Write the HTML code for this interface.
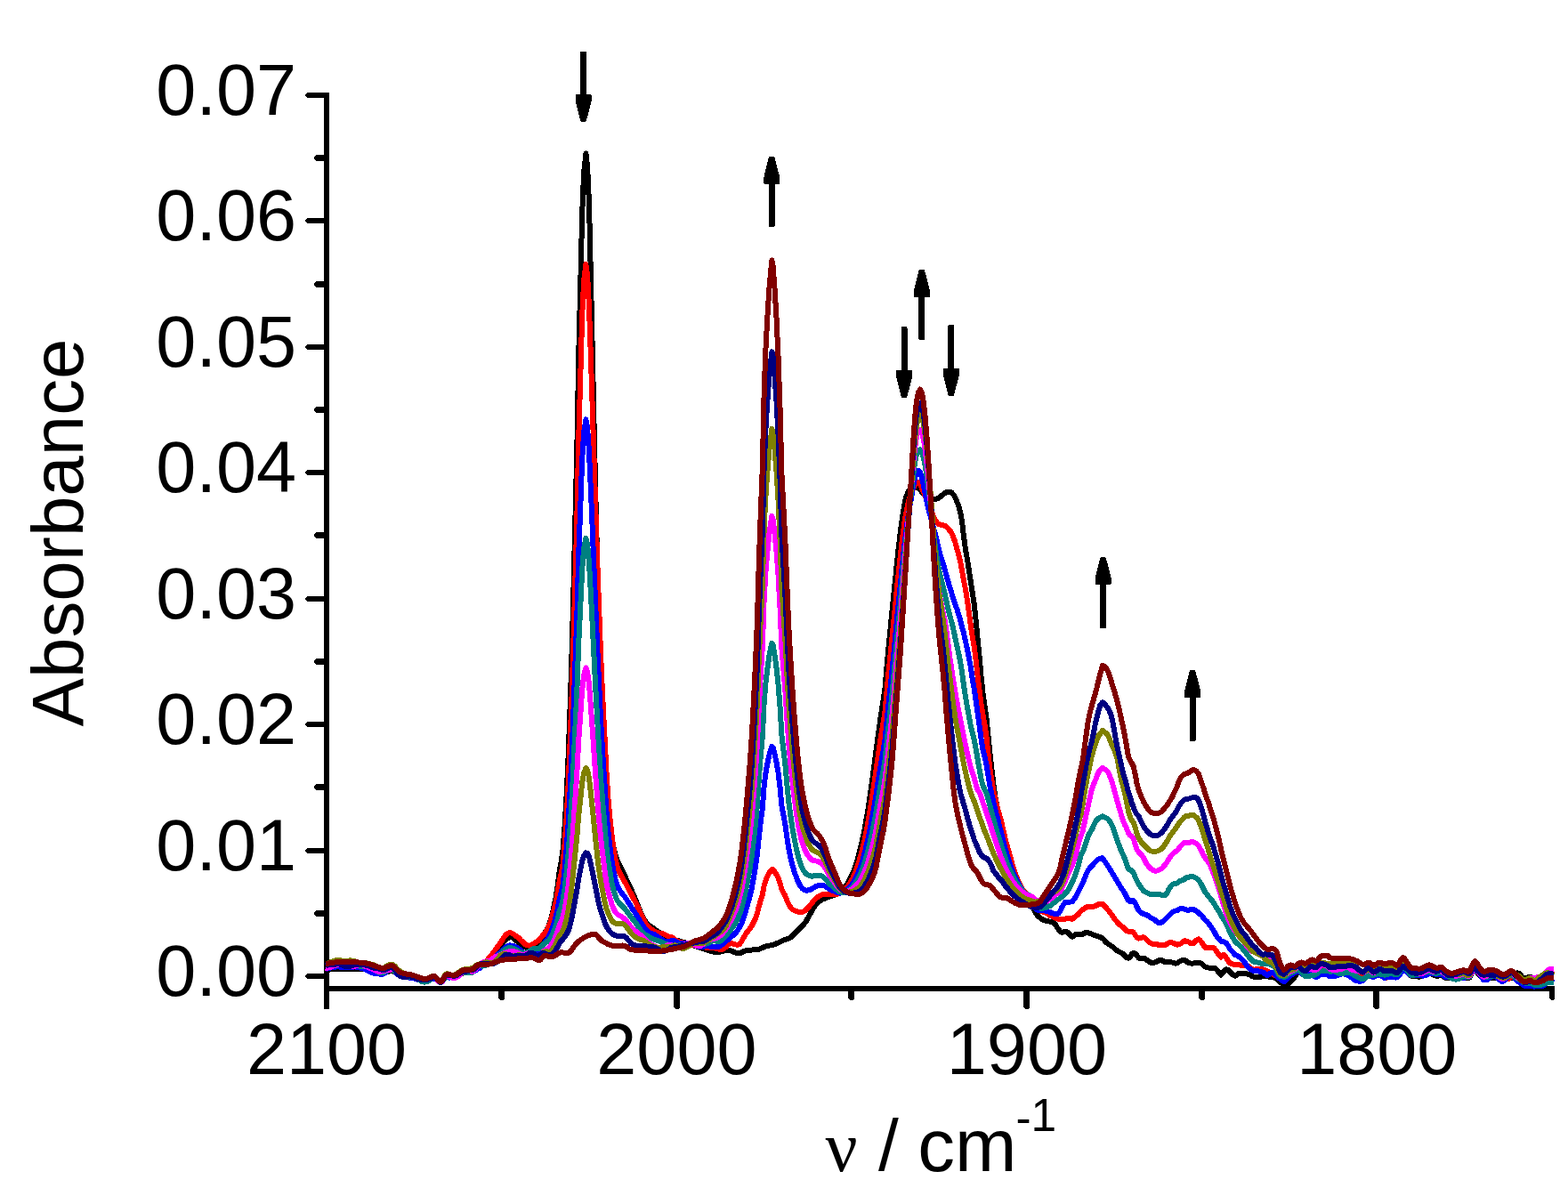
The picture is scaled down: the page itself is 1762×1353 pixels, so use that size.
<!DOCTYPE html>
<html lang="en"><head><meta charset="utf-8"><title>IR spectra</title>
<style>html,body{margin:0;padding:0;background:#fff;overflow:hidden}svg{display:block}</style>
</head><body>
<svg width="1762" height="1353" viewBox="0 0 1762 1353" role="img" aria-label="Infrared absorbance spectra, 2100 to 1750 wavenumbers">
<rect width="1762" height="1353" fill="#fff"/>
<g fill="#000" shape-rendering="crispEdges">
<rect x="364" y="104" width="6" height="1030"/>
<rect x="364" y="1108" width="1383" height="6"/>
<path d="M365,1094 L345,1094 L343,1096 L343,1098 L345,1100 L365,1100 Z"/>
<path d="M365,1023 L355,1023 L353,1025 L353,1028 L355,1030 L365,1030 Z"/>
<path d="M365,953 L345,953 L343,955 L343,957 L345,959 L365,959 Z"/>
<path d="M365,881 L355,881 L353,883 L353,886 L355,888 L365,888 Z"/>
<path d="M365,811 L345,811 L343,813 L343,815 L345,817 L365,817 Z"/>
<path d="M365,740 L355,740 L353,742 L353,745 L355,747 L365,747 Z"/>
<path d="M365,670 L345,670 L343,672 L343,674 L345,676 L365,676 Z"/>
<path d="M365,598 L355,598 L353,600 L353,603 L355,605 L365,605 Z"/>
<path d="M365,528 L345,528 L343,530 L343,532 L345,534 L365,534 Z"/>
<path d="M365,457 L355,457 L353,459 L353,462 L355,464 L365,464 Z"/>
<path d="M365,387 L345,387 L343,389 L343,391 L345,393 L365,393 Z"/>
<path d="M365,316 L355,316 L353,318 L353,321 L355,323 L365,323 Z"/>
<path d="M365,245 L345,245 L343,247 L343,249 L345,251 L365,251 Z"/>
<path d="M365,174 L355,174 L353,176 L353,179 L355,181 L365,181 Z"/>
<path d="M365,104 L345,104 L343,106 L343,108 L345,110 L365,110 Z"/>
<path d="M364,1110 L364,1132 L366,1134 L368,1134 L370,1132 L370,1110 Z"/>
<path d="M560,1110 L560,1122 L562,1124 L565,1124 L567,1122 L567,1110 Z"/>
<path d="M757,1110 L757,1132 L759,1134 L762,1134 L764,1132 L764,1110 Z"/>
<path d="M953,1110 L953,1122 L955,1124 L958,1124 L960,1122 L960,1110 Z"/>
<path d="M1150,1110 L1150,1132 L1152,1134 L1155,1134 L1157,1132 L1157,1110 Z"/>
<path d="M1347,1110 L1347,1122 L1349,1124 L1352,1124 L1354,1122 L1354,1110 Z"/>
<path d="M1543,1110 L1543,1132 L1545,1134 L1548,1134 L1550,1132 L1550,1110 Z"/>
<path d="M1741,1110 L1741,1122 L1743,1124 L1745,1124 L1747,1122 L1747,1110 Z"/>
</g>
<g font-family="'Liberation Sans', Arial, sans-serif" font-size="81px" fill="#000">
<text x="333" y="1119.0" text-anchor="end">0.00</text>
<text x="333" y="977.6" text-anchor="end">0.01</text>
<text x="333" y="836.1" text-anchor="end">0.02</text>
<text x="333" y="694.7" text-anchor="end">0.03</text>
<text x="333" y="553.3" text-anchor="end">0.04</text>
<text x="333" y="411.9" text-anchor="end">0.05</text>
<text x="333" y="270.4" text-anchor="end">0.06</text>
<text x="333" y="129.0" text-anchor="end">0.07</text>
<text x="367.0" y="1207" text-anchor="middle">2100</text>
<text x="760.4" y="1207" text-anchor="middle">2000</text>
<text x="1153.9" y="1207" text-anchor="middle">1900</text>
<text x="1547.3" y="1207" text-anchor="middle">1800</text>
</g>
<text transform="translate(93,598.5) rotate(-90)" font-family="'Liberation Sans', Arial, sans-serif" font-size="81.7px" text-anchor="middle" fill="#000">Absorbance</text>
<text font-family="'Liberation Sans', Arial, sans-serif" font-size="82px" fill="#000"><tspan x="927.5" y="1316" font-family="'Liberation Serif', 'DejaVu Serif', serif" font-size="80px">ν</tspan> <tspan x="987" y="1315">/</tspan> <tspan x="1031.3" y="1315.5" font-size="83.4px">cm</tspan><tspan x="1141.5" y="1273.5" font-size="51.5px">-</tspan><tspan x="1158.6" y="1271" font-size="51.5px">1</tspan></text>
<g fill="#000" stroke="#000" stroke-width="3" stroke-linejoin="round" shape-rendering="crispEdges">
<path d="M653.5,59.5 L657.5,59.5 L657.5,107.5 L663.3,107.5 L663.3,113 L657.4,135.5 L653.6,135.5 L648.1,113 L648.1,107.5 L653.5,107.5 Z"/>
<path d="M865.1,253.5 L869.1,253.5 L869.1,205.5 L874.9,205.5 L874.9,200 L869.0,177.5 L865.2,177.5 L859.7,200 L859.7,205.5 L865.1,205.5 Z"/>
<path d="M1033.8,380.5 L1037.8,380.5 L1037.8,332.5 L1043.6,332.5 L1043.6,327 L1037.6999999999998,304.5 L1033.9,304.5 L1028.3999999999999,327 L1028.3999999999999,332.5 L1033.8,332.5 Z"/>
<path d="M1014.0,368.8 L1018.0,368.8 L1018.0,417.5 L1023.8,417.5 L1023.8,423 L1017.9,445.5 L1014.1,445.5 L1008.6,423 L1008.6,417.5 L1014.0,417.5 Z"/>
<path d="M1066.7,366.5 L1070.7,366.5 L1070.7,415.5 L1076.5,415.5 L1076.5,421 L1070.6,443.5 L1066.8000000000002,443.5 L1061.3,421 L1061.3,415.5 L1066.7,415.5 Z"/>
<path d="M1237.5,704.5 L1241.5,704.5 L1241.5,655.5 L1247.3,655.5 L1247.3,650 L1241.3999999999999,627.5 L1237.6000000000001,627.5 L1232.1,650 L1232.1,655.5 L1237.5,655.5 Z"/>
<path d="M1338.0,831.5 L1342.0,831.5 L1342.0,782.5 L1347.8,782.5 L1347.8,777 L1341.8999999999999,754.5 L1338.1000000000001,754.5 L1332.6,777 L1332.6,782.5 L1338.0,782.5 Z"/>
</g>
<g fill="none" stroke-width="6" stroke-linejoin="round" stroke-linecap="butt" shape-rendering="crispEdges">
<polyline stroke="#000000" points="366.0,1090.0 367.0,1090.0 369.0,1089.8 370.9,1089.5 372.9,1089.3 374.9,1089.1 376.8,1088.9 378.8,1088.8 380.8,1088.6 382.7,1088.6 384.7,1088.5 386.7,1088.5 388.6,1088.5 390.6,1088.5 392.6,1088.5 394.5,1088.6 396.5,1088.6 398.5,1088.7 400.4,1088.7 402.4,1088.8 404.4,1088.9 406.3,1088.9 408.3,1089.0 410.3,1089.2 412.2,1089.5 414.2,1089.8 416.2,1090.2 418.1,1090.6 420.1,1091.0 422.1,1091.5 424.0,1092.2 426.0,1092.8 428.0,1093.3 429.9,1093.5 431.9,1093.3 433.9,1092.7 435.8,1091.9 437.8,1091.3 439.8,1091.0 441.7,1091.3 443.7,1092.3 445.7,1093.6 447.6,1094.9 449.6,1095.9 451.6,1096.4 453.5,1096.8 455.5,1097.1 457.5,1097.4 459.4,1097.7 461.4,1098.0 463.4,1098.4 465.3,1098.8 467.3,1099.4 469.3,1100.0 471.3,1100.7 473.2,1101.3 475.2,1101.7 477.2,1102.0 479.1,1101.9 481.1,1101.4 483.1,1100.7 485.0,1100.0 487.0,1099.6 489.0,1099.7 490.9,1101.2 492.9,1103.0 494.9,1104.0 496.8,1103.0 498.8,1100.6 500.8,1098.5 502.7,1098.0 504.7,1098.1 506.7,1098.3 508.6,1098.5 510.6,1098.5 512.6,1097.9 514.5,1096.9 516.5,1095.7 518.5,1094.5 520.4,1093.5 522.4,1092.9 524.4,1092.7 526.3,1092.5 528.3,1092.3 530.3,1091.9 532.2,1091.2 534.2,1090.0 536.2,1088.7 538.1,1087.2 540.1,1085.9 542.1,1084.8 544.0,1083.8 546.0,1082.7 548.0,1081.5 549.9,1080.1 551.9,1078.3 553.9,1076.1 555.8,1073.6 557.8,1071.0 559.8,1068.3 561.7,1065.4 563.7,1061.9 565.7,1058.7 567.6,1056.3 569.6,1054.8 571.6,1053.6 573.7,1053.0 575.5,1053.5 577.5,1054.9 579.4,1056.6 581.4,1058.1 583.4,1059.9 585.3,1061.5 587.3,1062.9 589.3,1064.1 591.2,1064.9 593.2,1065.0 595.2,1064.8 597.1,1064.5 599.1,1064.2 601.1,1063.7 603.0,1062.7 605.0,1061.0 607.0,1057.8 608.9,1054.0 610.9,1050.4 612.9,1047.2 614.8,1043.8 616.8,1039.7 618.8,1034.1 620.7,1026.5 622.7,1017.8 624.7,1007.9 626.6,995.3 628.6,979.3 630.6,968.8 632.5,954.8 634.5,929.6 636.5,895.7 638.4,855.5 640.4,801.4 642.4,739.9 644.3,668.5 646.3,587.4 648.3,505.7 650.2,400.8 652.2,322.4 654.2,239.8 656.1,194.5 658.4,172.5 660.1,186.9 662.0,229.4 664.0,314.1 666.0,405.0 668.0,497.7 669.9,580.3 671.9,658.6 673.9,718.6 675.8,764.1 677.8,808.1 679.8,852.4 681.7,881.5 683.7,904.4 685.7,924.1 687.6,940.2 689.6,952.6 691.6,960.9 693.5,966.5 695.5,970.7 697.5,974.5 699.4,978.5 701.4,982.8 703.4,987.0 705.3,991.2 707.3,995.4 709.3,999.6 711.2,1003.9 713.2,1008.4 715.2,1013.4 717.1,1018.5 719.1,1023.5 721.1,1028.1 723.0,1032.1 725.0,1035.2 727.0,1037.4 728.9,1039.3 730.9,1040.9 732.9,1042.3 734.8,1043.7 736.8,1045.0 738.8,1046.3 740.7,1047.7 742.7,1049.2 744.7,1050.6 746.6,1052.0 748.6,1053.1 750.6,1054.0 752.5,1054.7 754.5,1055.4 756.5,1055.9 758.4,1056.4 760.4,1056.9 762.4,1057.3 764.3,1057.8 766.3,1058.3 768.3,1058.9 770.2,1059.5 772.2,1060.1 774.2,1060.8 776.1,1061.5 778.1,1062.1 780.1,1062.8 782.0,1063.5 784.0,1064.1 786.0,1064.8 787.9,1065.4 789.9,1066.0 791.9,1066.6 793.8,1067.2 795.8,1067.9 797.8,1068.5 799.7,1069.1 801.7,1069.6 803.7,1069.9 805.6,1070.1 807.6,1070.0 809.6,1069.6 811.5,1069.0 813.5,1068.5 815.5,1068.0 817.4,1067.7 819.4,1067.8 821.4,1068.4 823.3,1069.2 825.3,1070.1 827.3,1070.8 829.2,1071.3 831.2,1071.2 833.2,1070.5 835.1,1069.5 837.1,1068.5 839.1,1067.8 841.0,1067.6 843.0,1067.6 845.0,1067.5 846.9,1067.4 848.9,1067.4 850.9,1067.2 852.8,1066.7 854.8,1065.9 856.8,1065.0 858.7,1064.1 860.7,1063.5 862.7,1063.0 864.7,1062.6 867.4,1062.0 868.6,1061.7 870.6,1061.1 872.5,1060.3 874.5,1059.4 876.5,1058.4 878.4,1057.5 880.4,1056.6 882.4,1056.0 884.3,1055.3 886.3,1054.6 888.3,1053.7 890.2,1052.1 892.2,1050.0 894.2,1047.8 896.1,1045.7 898.1,1043.8 900.1,1042.0 902.0,1040.1 904.0,1037.8 906.0,1034.9 907.9,1031.4 909.9,1028.0 911.9,1024.5 913.8,1021.0 915.8,1018.0 917.8,1015.8 919.7,1013.9 921.7,1012.3 923.7,1011.0 925.6,1010.0 927.6,1009.3 929.6,1008.6 931.5,1008.0 933.5,1007.3 935.5,1006.6 937.4,1005.9 939.4,1005.1 941.4,1004.1 943.3,1002.9 945.3,1001.4 947.3,999.6 949.2,997.3 951.2,994.5 953.2,991.5 955.1,987.9 957.1,983.9 959.1,979.4 961.0,974.1 963.0,967.9 965.0,960.8 966.9,953.0 968.9,944.7 970.9,935.2 972.8,924.8 974.8,913.3 976.8,900.5 978.7,886.8 980.7,872.7 982.7,857.8 984.6,842.9 986.6,827.8 988.6,813.1 990.5,799.9 992.5,787.8 994.5,773.5 996.4,750.9 998.4,728.0 1000.4,708.1 1002.3,688.2 1004.3,668.3 1006.3,648.8 1008.2,629.7 1010.2,611.3 1012.2,595.0 1014.1,580.7 1016.1,568.3 1018.1,559.2 1020.0,553.7 1022.0,550.5 1024.0,549.1 1025.9,548.3 1027.9,547.9 1029.5,547.7 1031.0,548.0 1032.0,548.6 1033.9,550.5 1035.8,552.7 1037.7,554.8 1039.7,556.5 1041.7,558.1 1043.6,559.3 1045.6,560.1 1047.6,560.8 1049.5,561.1 1051.5,560.9 1053.5,560.2 1055.4,559.3 1057.4,557.6 1059.4,555.9 1061.4,554.4 1063.3,553.3 1065.3,553.2 1067.3,553.2 1069.2,553.4 1071.2,555.5 1073.2,558.6 1075.1,563.1 1077.1,568.4 1079.1,575.0 1081.0,585.9 1083.0,602.9 1085.0,617.3 1086.9,628.1 1088.9,640.9 1090.9,654.1 1092.8,666.1 1094.8,679.7 1096.8,698.8 1098.7,718.8 1100.7,738.5 1102.7,761.9 1104.6,779.9 1106.6,793.6 1108.6,807.9 1110.5,826.7 1112.5,847.0 1114.5,864.8 1116.4,881.0 1118.4,895.3 1120.4,906.5 1122.3,914.4 1124.3,922.2 1126.3,930.0 1128.2,938.3 1130.2,946.8 1132.2,954.3 1134.1,961.0 1136.1,967.9 1138.1,975.0 1140.0,981.1 1142.0,986.5 1144.0,991.4 1145.9,995.9 1147.9,999.6 1149.9,1002.5 1151.8,1004.9 1153.8,1006.7 1155.8,1008.7 1157.7,1012.0 1159.7,1016.3 1161.7,1021.7 1163.6,1026.0 1165.6,1028.6 1167.6,1030.5 1169.5,1032.1 1171.5,1033.3 1173.5,1034.2 1175.4,1034.7 1177.4,1035.1 1179.4,1035.6 1181.3,1036.2 1183.3,1036.9 1185.3,1038.0 1187.2,1041.0 1189.2,1044.1 1191.2,1046.6 1193.1,1047.8 1195.1,1047.4 1197.1,1046.9 1199.0,1047.1 1201.0,1048.9 1203.0,1050.9 1204.9,1052.8 1206.9,1051.4 1208.9,1049.8 1210.8,1049.9 1212.8,1050.1 1214.8,1050.2 1216.7,1049.7 1218.7,1048.5 1220.7,1047.8 1222.6,1048.1 1224.6,1048.8 1226.6,1049.7 1228.5,1050.4 1230.5,1051.3 1232.5,1052.0 1234.4,1052.6 1236.4,1053.2 1239.0,1054.6 1240.3,1055.9 1242.3,1058.2 1244.3,1060.0 1246.2,1061.3 1248.2,1062.6 1250.2,1063.9 1252.1,1065.6 1254.1,1067.4 1256.1,1068.8 1258.1,1069.8 1260.0,1070.7 1262.0,1071.8 1264.0,1074.0 1265.9,1076.3 1267.9,1076.6 1269.9,1075.7 1271.8,1072.0 1273.8,1070.8 1275.8,1071.9 1277.7,1073.8 1279.7,1076.7 1281.7,1076.7 1283.6,1076.7 1285.6,1076.8 1287.6,1078.0 1289.5,1079.5 1291.5,1080.7 1293.5,1081.8 1295.4,1082.1 1297.4,1081.6 1299.4,1080.9 1301.3,1079.9 1303.3,1078.8 1305.3,1079.1 1307.2,1080.2 1309.2,1081.2 1311.2,1081.3 1313.1,1081.3 1315.1,1081.3 1317.1,1081.5 1319.0,1082.1 1321.0,1082.6 1323.0,1082.4 1324.9,1080.9 1326.9,1079.7 1328.9,1079.0 1330.8,1078.7 1332.8,1079.8 1334.8,1081.6 1336.7,1082.3 1338.7,1082.6 1340.7,1082.6 1341.8,1082.4 1344.6,1081.8 1346.6,1081.8 1348.5,1082.2 1350.5,1083.1 1352.5,1084.9 1354.4,1086.5 1356.4,1087.2 1358.4,1087.6 1360.3,1087.7 1362.3,1087.7 1364.3,1087.7 1366.2,1088.5 1368.2,1091.0 1370.2,1093.7 1372.1,1095.7 1374.1,1093.3 1376.1,1090.5 1378.0,1089.4 1380.0,1089.8 1382.0,1091.9 1383.9,1093.8 1385.9,1095.8 1387.9,1096.7 1389.8,1095.6 1391.8,1094.0 1393.8,1093.7 1395.7,1093.7 1397.7,1093.7 1399.7,1094.0 1401.6,1094.6 1403.6,1095.3 1405.6,1096.1 1407.5,1097.2 1409.5,1097.7 1411.5,1097.7 1413.4,1097.7 1415.4,1097.7 1417.4,1097.6 1419.3,1097.4 1421.3,1097.3 1423.3,1097.3 1425.2,1097.5 1427.2,1097.7 1429.2,1097.9 1431.1,1098.3 1433.1,1098.9 1435.1,1100.3 1437.0,1102.2 1439.0,1103.8 1441.0,1105.7 1442.9,1106.9 1444.9,1106.8 1446.9,1105.8 1448.8,1104.3 1450.8,1102.8 1452.8,1100.8 1454.8,1098.2 1456.7,1094.8 1458.7,1092.2 1460.7,1091.1 1462.6,1090.5 1464.6,1091.0 1466.6,1091.9 1468.5,1091.2 1470.5,1089.7 1472.5,1088.1 1474.4,1087.5 1476.4,1088.2 1478.4,1088.9 1480.3,1088.3 1482.3,1085.8 1484.3,1083.9 1486.2,1082.9 1488.2,1082.5 1490.2,1082.5 1492.1,1083.1 1494.1,1085.1 1496.1,1085.5 1498.0,1085.5 1500.0,1085.5 1502.0,1085.5 1503.9,1085.5 1505.9,1085.5 1507.9,1085.5 1509.8,1085.5 1511.8,1085.6 1513.8,1085.8 1515.7,1086.1 1517.7,1086.4 1519.7,1086.9 1521.6,1087.6 1523.6,1088.4 1525.6,1089.3 1527.5,1090.6 1529.5,1092.1 1531.5,1092.9 1533.4,1092.6 1535.4,1091.5 1537.4,1090.6 1539.3,1090.9 1541.3,1092.5 1543.3,1093.9 1545.2,1093.6 1547.2,1092.1 1549.2,1090.7 1551.1,1090.7 1553.1,1091.6 1555.1,1092.4 1557.0,1092.4 1559.0,1091.7 1561.0,1090.9 1562.9,1090.5 1564.9,1091.1 1566.9,1092.5 1568.8,1093.7 1570.8,1093.6 1572.8,1090.5 1574.7,1086.6 1576.7,1085.0 1578.7,1086.8 1580.6,1090.0 1582.6,1092.8 1584.6,1095.9 1586.5,1097.1 1588.5,1097.3 1590.5,1097.4 1592.4,1097.5 1594.4,1097.6 1596.4,1097.5 1598.3,1096.8 1600.3,1095.7 1602.3,1094.5 1604.2,1093.7 1606.2,1093.4 1608.2,1094.0 1610.1,1095.1 1612.1,1096.2 1614.1,1096.8 1616.0,1096.6 1618.0,1096.1 1620.0,1096.0 1621.9,1097.3 1623.9,1098.8 1625.9,1099.0 1627.8,1099.0 1629.8,1099.0 1631.8,1099.0 1633.7,1099.0 1635.7,1099.0 1637.7,1099.0 1639.6,1099.0 1641.6,1099.0 1643.6,1099.0 1645.5,1099.0 1647.5,1099.0 1649.5,1099.0 1651.5,1098.4 1653.4,1095.0 1655.4,1091.0 1657.4,1089.1 1659.3,1091.1 1661.3,1094.5 1663.3,1096.6 1665.2,1098.2 1667.2,1099.0 1669.2,1099.0 1671.1,1098.8 1673.1,1098.7 1675.1,1098.6 1677.0,1098.7 1679.0,1098.9 1681.0,1099.0 1682.9,1099.0 1684.9,1099.0 1686.9,1099.0 1688.8,1099.0 1690.8,1099.0 1692.8,1099.0 1694.7,1099.0 1696.7,1099.0 1698.7,1099.0 1700.6,1097.6 1702.6,1095.2 1704.6,1093.4 1706.5,1093.6 1708.5,1095.6 1710.5,1097.9 1712.4,1099.4 1714.4,1099.3 1716.4,1098.5 1718.3,1097.8 1720.3,1098.2 1722.3,1099.3 1724.2,1100.2 1726.2,1100.1 1728.2,1099.8 1730.1,1099.3 1732.1,1098.8 1734.1,1098.1 1736.0,1096.9 1738.0,1095.6 1740.0,1094.8 1741.9,1094.6 1743.9,1094.5 1746.0,1094.5"/>
<polyline stroke="#ff0000" points="366.0,1087.8 367.0,1087.8 369.0,1087.0 370.9,1086.2 372.9,1085.5 374.9,1084.9 376.8,1084.8 378.8,1084.8 380.8,1084.8 382.7,1084.9 384.7,1084.8 386.7,1084.8 388.6,1084.8 390.6,1084.9 392.6,1085.0 394.5,1085.1 396.5,1085.4 398.5,1085.8 400.4,1086.1 402.4,1086.3 404.4,1086.1 406.3,1085.9 408.3,1085.9 410.3,1086.2 412.2,1086.7 414.2,1087.5 416.2,1087.9 418.1,1088.2 420.1,1088.6 422.1,1089.2 424.0,1090.4 426.0,1092.1 428.0,1093.2 429.9,1093.5 431.9,1093.0 433.9,1091.4 435.8,1089.9 437.8,1088.8 439.8,1088.4 441.7,1089.2 443.7,1091.0 445.7,1093.4 447.6,1095.6 449.6,1097.0 451.6,1097.5 453.5,1097.7 455.5,1097.7 457.5,1097.4 459.4,1097.1 461.4,1097.3 463.4,1097.5 465.3,1097.9 467.3,1098.3 469.3,1098.6 471.3,1098.9 473.2,1099.8 475.2,1100.6 477.2,1101.6 479.1,1102.2 481.1,1101.7 483.1,1100.9 485.0,1099.9 487.0,1099.2 489.0,1099.3 490.9,1101.2 492.9,1103.3 494.9,1104.0 496.8,1102.1 498.8,1098.3 500.8,1095.5 502.7,1095.0 504.7,1095.5 506.7,1096.1 508.6,1096.6 510.6,1096.9 512.6,1096.4 514.5,1095.4 516.5,1094.2 518.5,1093.1 520.4,1092.2 522.4,1091.9 524.4,1091.4 526.3,1090.7 528.3,1090.3 530.3,1090.0 532.2,1089.2 534.2,1088.1 536.2,1086.8 538.1,1085.8 540.1,1085.2 542.1,1084.1 544.0,1082.5 546.0,1080.4 548.0,1078.3 549.9,1076.0 551.9,1073.6 553.9,1071.1 555.8,1068.5 557.8,1065.7 559.8,1063.1 561.7,1060.6 563.7,1057.4 565.7,1054.1 567.6,1051.5 569.6,1049.6 571.6,1048.3 573.7,1048.1 575.5,1048.9 577.5,1050.2 579.4,1051.7 581.4,1052.9 583.4,1054.4 585.3,1056.6 587.3,1058.4 589.3,1060.5 591.2,1061.9 593.2,1062.4 595.2,1062.6 597.1,1061.8 599.1,1061.0 601.1,1059.8 603.0,1058.2 605.0,1057.2 607.0,1054.8 608.9,1052.4 610.9,1050.1 612.9,1047.5 614.8,1044.7 616.8,1040.6 618.8,1035.4 620.7,1028.4 622.7,1021.3 624.7,1013.2 626.6,1003.1 628.6,990.3 630.6,982.4 632.5,971.3 634.5,949.7 636.5,920.5 638.4,886.0 640.4,839.4 642.4,786.2 644.3,724.6 646.3,654.6 648.3,584.1 650.2,493.7 652.2,426.2 654.2,355.0 656.1,316.0 658.4,296.9 660.1,309.2 662.0,345.5 664.0,404.0 666.0,466.0 668.0,530.5 669.9,590.8 671.9,649.5 673.9,704.0 675.8,752.5 677.8,795.2 679.8,833.5 681.7,871.7 683.7,900.4 685.7,921.6 687.6,939.4 689.6,954.2 691.6,965.7 693.5,973.8 695.5,979.2 697.5,983.2 699.4,986.5 701.4,989.9 703.4,993.5 705.3,997.3 707.3,1001.0 709.3,1004.7 711.2,1008.4 713.2,1012.1 715.2,1016.0 717.1,1020.2 719.1,1024.6 721.1,1028.9 723.0,1033.2 725.0,1037.0 727.0,1040.0 728.9,1042.0 730.9,1043.6 732.9,1044.8 734.8,1046.0 736.8,1047.1 738.8,1047.9 740.7,1048.5 742.7,1048.9 744.7,1049.2 746.6,1050.2 748.6,1051.2 750.6,1052.1 752.5,1052.7 754.5,1053.2 756.5,1054.3 758.4,1055.9 760.4,1057.1 762.4,1058.1 764.3,1058.6 766.3,1059.0 768.3,1059.6 770.2,1060.3 772.2,1061.0 774.2,1061.6 776.1,1062.0 778.1,1062.3 780.1,1062.3 782.0,1062.0 784.0,1062.0 786.0,1062.3 787.9,1062.9 789.9,1063.9 791.9,1064.5 793.8,1064.8 795.8,1065.0 797.8,1065.0 799.7,1065.1 801.7,1065.3 803.7,1065.6 805.6,1066.1 807.6,1066.6 809.6,1067.3 811.5,1067.2 813.5,1065.9 815.5,1064.4 817.4,1062.3 819.4,1060.7 821.4,1060.4 823.3,1060.3 825.3,1061.1 827.3,1061.6 829.2,1061.6 831.2,1060.9 833.2,1057.9 835.1,1054.5 837.1,1051.2 839.1,1048.0 841.0,1045.7 843.0,1043.2 845.0,1040.1 846.9,1036.4 848.9,1032.1 850.9,1026.5 852.8,1018.7 854.8,1011.6 856.8,1005.4 858.7,994.9 860.7,988.6 862.7,984.2 864.7,980.5 867.4,976.8 868.6,977.3 870.6,979.7 872.5,982.6 874.5,986.5 876.5,992.2 878.4,999.6 880.4,1003.2 882.4,1006.8 884.3,1011.7 886.3,1016.3 888.3,1019.4 890.2,1021.6 892.2,1022.9 894.2,1023.8 896.1,1024.5 898.1,1025.0 900.1,1025.1 902.0,1024.8 904.0,1023.9 906.0,1022.3 907.9,1020.2 909.9,1017.9 911.9,1015.4 913.8,1012.8 915.8,1010.5 917.8,1008.8 919.7,1007.4 921.7,1006.3 923.7,1005.5 925.6,1005.1 927.6,1005.1 929.6,1005.2 931.5,1005.3 933.5,1005.3 935.5,1005.2 937.4,1005.1 939.4,1004.9 941.4,1004.6 943.3,1004.0 945.3,1003.1 947.3,1001.8 949.2,1000.0 951.2,997.8 953.2,995.3 955.1,992.4 957.1,989.0 959.1,985.1 961.0,980.6 963.0,975.3 965.0,969.2 966.9,962.5 968.9,955.2 970.9,946.8 972.8,937.6 974.8,927.5 976.8,916.1 978.7,903.9 980.7,891.3 982.7,878.0 984.6,864.4 986.6,850.2 988.6,836.4 990.5,824.1 992.5,812.7 994.5,799.0 996.4,778.0 998.4,756.5 1000.4,737.5 1002.3,718.4 1004.3,698.6 1006.3,678.2 1008.2,658.6 1010.2,639.2 1012.2,621.3 1014.1,604.5 1016.1,589.3 1018.1,576.9 1020.0,567.6 1022.0,560.1 1024.0,554.6 1025.9,549.3 1027.9,545.1 1029.5,542.8 1031.0,541.8 1032.0,542.1 1033.9,544.3 1035.8,548.2 1037.7,552.7 1039.7,557.5 1041.7,562.2 1043.6,567.0 1045.6,572.0 1047.6,577.1 1049.5,581.7 1051.5,585.3 1053.5,587.8 1055.4,589.4 1057.4,589.8 1059.4,590.1 1061.4,590.6 1063.3,591.8 1065.3,594.0 1067.3,596.2 1069.2,598.5 1071.2,603.3 1073.2,608.9 1075.1,615.8 1077.1,622.9 1079.1,630.5 1081.0,641.1 1083.0,652.5 1085.0,662.6 1086.9,674.3 1088.9,688.5 1090.9,703.3 1092.8,715.8 1094.8,727.3 1096.8,743.3 1098.7,760.5 1100.7,777.0 1102.7,792.7 1104.6,803.7 1106.6,814.8 1108.6,829.3 1110.5,847.4 1112.5,864.2 1114.5,877.6 1116.4,888.4 1118.4,897.0 1120.4,906.0 1122.3,912.7 1124.3,919.9 1126.3,928.0 1128.2,936.3 1130.2,944.8 1132.2,952.2 1134.1,959.0 1136.1,965.9 1138.1,973.0 1140.0,979.1 1142.0,984.5 1144.0,989.4 1145.9,993.9 1147.9,997.6 1149.9,1000.6 1151.8,1002.8 1153.8,1004.2 1155.8,1005.8 1157.7,1007.1 1159.7,1008.6 1161.7,1012.3 1163.6,1015.6 1165.6,1018.9 1167.6,1022.6 1169.5,1023.9 1171.5,1024.5 1173.5,1024.9 1175.4,1025.5 1177.4,1027.1 1179.4,1028.7 1181.3,1029.6 1183.3,1030.3 1185.3,1031.1 1187.2,1032.3 1189.2,1032.7 1191.2,1032.9 1193.1,1033.0 1195.1,1032.9 1197.1,1032.7 1199.0,1032.1 1201.0,1032.2 1203.0,1032.4 1204.9,1033.0 1206.9,1031.3 1208.9,1029.4 1210.8,1028.2 1212.8,1025.9 1214.8,1023.8 1216.7,1022.2 1218.7,1020.7 1220.7,1019.5 1222.6,1018.7 1224.6,1018.7 1226.6,1018.8 1228.5,1018.7 1230.5,1018.2 1232.5,1017.3 1234.4,1016.3 1236.4,1015.9 1239.0,1016.0 1240.3,1017.1 1242.3,1019.3 1244.3,1021.6 1246.2,1024.0 1248.2,1026.6 1250.2,1029.4 1252.1,1032.0 1254.1,1034.7 1256.1,1037.1 1258.1,1039.1 1260.0,1040.5 1262.0,1041.8 1264.0,1044.1 1265.9,1046.1 1267.9,1046.8 1269.9,1047.1 1271.8,1046.8 1273.8,1047.9 1275.8,1050.9 1277.7,1053.5 1279.7,1054.6 1281.7,1054.0 1283.6,1053.4 1285.6,1053.4 1287.6,1055.0 1289.5,1057.2 1291.5,1058.9 1293.5,1059.9 1295.4,1060.8 1297.4,1060.5 1299.4,1060.5 1301.3,1062.0 1303.3,1062.1 1305.3,1062.1 1307.2,1062.2 1309.2,1061.9 1311.2,1060.9 1313.1,1059.6 1315.1,1059.1 1317.1,1059.4 1319.0,1059.9 1321.0,1061.1 1323.0,1061.6 1324.9,1060.8 1326.9,1060.4 1328.9,1058.9 1330.8,1057.4 1332.8,1057.5 1334.8,1058.2 1336.7,1059.2 1338.7,1060.5 1340.7,1060.2 1341.8,1059.1 1344.6,1056.4 1346.6,1055.3 1348.5,1056.6 1350.5,1059.1 1352.5,1062.2 1354.4,1064.7 1356.4,1065.5 1358.4,1065.3 1360.3,1064.7 1362.3,1064.5 1364.3,1065.5 1366.2,1067.7 1368.2,1070.9 1370.2,1073.9 1372.1,1075.7 1374.1,1073.3 1376.1,1073.3 1378.0,1076.4 1380.0,1079.7 1382.0,1082.4 1383.9,1083.2 1385.9,1083.5 1387.9,1084.4 1389.8,1084.2 1391.8,1083.6 1393.8,1084.6 1395.7,1085.1 1397.7,1084.9 1399.7,1085.0 1401.6,1085.3 1403.6,1086.2 1405.6,1088.0 1407.5,1089.4 1409.5,1089.6 1411.5,1089.4 1413.4,1089.0 1415.4,1088.8 1417.4,1089.0 1419.3,1089.4 1421.3,1090.1 1423.3,1091.2 1425.2,1092.2 1427.2,1093.1 1429.2,1094.1 1431.1,1095.3 1433.1,1095.9 1435.1,1097.2 1437.0,1098.8 1439.0,1099.7 1441.0,1101.4 1442.9,1102.7 1444.9,1101.7 1446.9,1099.9 1448.8,1097.3 1450.8,1094.7 1452.8,1093.5 1454.8,1092.4 1456.7,1091.3 1458.7,1090.9 1460.7,1091.4 1462.6,1092.1 1464.6,1094.1 1466.6,1096.1 1468.5,1096.7 1470.5,1096.7 1472.5,1095.8 1474.4,1095.3 1476.4,1095.0 1478.4,1094.4 1480.3,1092.7 1482.3,1089.6 1484.3,1087.5 1486.2,1086.4 1488.2,1086.3 1490.2,1086.8 1492.1,1087.7 1494.1,1089.6 1496.1,1089.8 1498.0,1089.4 1500.0,1089.2 1502.0,1089.5 1503.9,1089.8 1505.9,1090.2 1507.9,1090.3 1509.8,1089.9 1511.8,1089.6 1513.8,1089.4 1515.7,1089.3 1517.7,1089.4 1519.7,1089.6 1521.6,1090.0 1523.6,1090.6 1525.6,1091.3 1527.5,1092.4 1529.5,1093.5 1531.5,1093.9 1533.4,1092.8 1535.4,1091.1 1537.4,1089.9 1539.3,1089.9 1541.3,1091.6 1543.3,1093.2 1545.2,1093.1 1547.2,1092.1 1549.2,1091.8 1551.1,1092.7 1553.1,1095.4 1555.1,1098.0 1557.0,1098.6 1559.0,1098.6 1561.0,1096.7 1562.9,1095.2 1564.9,1094.9 1566.9,1095.3 1568.8,1095.7 1570.8,1095.0 1572.8,1091.6 1574.7,1087.5 1576.7,1085.3 1578.7,1085.9 1580.6,1088.1 1582.6,1090.1 1584.6,1092.7 1586.5,1094.0 1588.5,1094.4 1590.5,1094.8 1592.4,1095.1 1594.4,1095.3 1596.4,1095.6 1598.3,1095.5 1600.3,1094.6 1602.3,1093.4 1604.2,1091.9 1606.2,1090.7 1608.2,1090.9 1610.1,1091.9 1612.1,1093.1 1614.1,1094.0 1616.0,1094.0 1618.0,1093.5 1620.0,1093.4 1621.9,1094.8 1623.9,1096.6 1625.9,1097.6 1627.8,1098.0 1629.8,1097.6 1631.8,1097.0 1633.7,1096.2 1635.7,1095.8 1637.7,1096.1 1639.6,1096.4 1641.6,1096.7 1643.6,1096.6 1645.5,1095.7 1647.5,1095.6 1649.5,1095.9 1651.5,1095.3 1653.4,1092.7 1655.4,1089.6 1657.4,1088.2 1659.3,1089.9 1661.3,1092.3 1663.3,1094.1 1665.2,1095.8 1667.2,1096.6 1669.2,1096.1 1671.1,1095.2 1673.1,1094.6 1675.1,1094.4 1677.0,1094.6 1679.0,1095.1 1681.0,1094.7 1682.9,1094.6 1684.9,1095.4 1686.9,1096.1 1688.8,1098.0 1690.8,1099.2 1692.8,1099.9 1694.7,1100.3 1696.7,1098.9 1698.7,1097.9 1700.6,1097.1 1702.6,1096.9 1704.6,1098.3 1706.5,1099.8 1708.5,1102.1 1710.5,1104.4 1712.4,1105.7 1714.4,1105.8 1716.4,1105.1 1718.3,1104.2 1720.3,1103.6 1722.3,1103.4 1724.2,1103.3 1726.2,1102.6 1728.2,1102.2 1730.1,1101.9 1732.1,1101.3 1734.1,1100.3 1736.0,1098.4 1738.0,1096.3 1740.0,1094.9 1741.9,1094.4 1743.9,1094.2 1746.0,1094.7"/>
<polyline stroke="#0000ff" points="366.0,1088.8 367.0,1088.6 369.0,1088.1 370.9,1087.7 372.9,1087.4 374.9,1087.1 376.8,1086.6 378.8,1086.2 380.8,1086.5 382.7,1086.9 384.7,1087.1 386.7,1087.3 388.6,1087.1 390.6,1086.8 392.6,1086.7 394.5,1086.7 396.5,1086.6 398.5,1086.4 400.4,1086.6 402.4,1086.8 404.4,1087.4 406.3,1088.0 408.3,1088.6 410.3,1089.3 412.2,1090.3 414.2,1091.5 416.2,1092.5 418.1,1093.3 420.1,1093.6 422.1,1093.6 424.0,1093.9 426.0,1094.4 428.0,1094.7 429.9,1094.8 431.9,1093.9 433.9,1092.3 435.8,1090.8 437.8,1089.8 439.8,1089.5 441.7,1089.9 443.7,1091.5 445.7,1093.6 447.6,1095.6 449.6,1097.0 451.6,1097.7 453.5,1098.1 455.5,1098.3 457.5,1098.4 459.4,1098.5 461.4,1098.7 463.4,1099.1 465.3,1099.6 467.3,1100.3 469.3,1100.8 471.3,1101.4 473.2,1101.6 475.2,1101.7 477.2,1101.7 479.1,1101.4 481.1,1100.9 483.1,1100.3 485.0,1099.8 487.0,1099.6 489.0,1099.7 490.9,1101.2 492.9,1103.3 494.9,1104.0 496.8,1103.2 498.8,1100.4 500.8,1098.0 502.7,1098.0 504.7,1098.6 506.7,1098.4 508.6,1098.3 510.6,1098.0 512.6,1097.2 514.5,1096.0 516.5,1094.9 518.5,1093.9 520.4,1093.2 522.4,1093.3 524.4,1093.2 526.3,1092.9 528.3,1092.6 530.3,1092.3 532.2,1091.7 534.2,1090.7 536.2,1089.0 538.1,1088.2 540.1,1087.5 542.1,1085.5 544.0,1083.4 546.0,1081.7 548.0,1080.6 549.9,1080.0 551.9,1079.0 553.9,1077.6 555.8,1075.9 557.8,1074.0 559.8,1072.3 561.7,1070.8 563.7,1068.8 565.7,1066.6 567.6,1064.9 569.6,1063.6 571.6,1062.6 573.7,1062.4 575.5,1062.8 577.5,1063.2 579.4,1063.9 581.4,1065.0 583.4,1066.4 585.3,1068.4 587.3,1070.1 589.3,1071.1 591.2,1071.7 593.2,1070.8 595.2,1069.9 597.1,1069.4 599.1,1069.0 601.1,1069.5 603.0,1069.7 605.0,1068.9 607.0,1066.7 608.9,1063.6 610.9,1060.6 612.9,1058.2 614.8,1055.9 616.8,1052.4 618.8,1048.1 620.7,1042.8 622.7,1036.9 624.7,1030.3 626.6,1021.5 628.6,1010.6 630.6,1003.6 632.5,994.3 634.5,977.7 636.5,955.3 638.4,928.7 640.4,892.6 642.4,851.2 644.3,803.1 646.3,748.6 648.3,693.9 650.2,624.0 652.2,571.6 654.2,516.5 656.1,486.2 658.4,471.3 660.1,480.6 662.0,508.4 664.0,553.3 666.0,601.0 668.0,650.6 669.9,697.0 671.9,742.4 673.9,784.7 675.8,822.5 677.8,855.8 679.8,885.6 681.7,915.2 683.7,937.6 685.7,954.1 687.6,968.0 689.6,979.5 691.6,988.4 693.5,994.7 695.5,998.9 697.5,1001.9 699.4,1004.4 701.4,1007.0 703.4,1009.8 705.3,1012.9 707.3,1016.0 709.3,1019.1 711.2,1022.2 713.2,1025.1 715.2,1028.2 717.1,1031.5 719.1,1034.8 721.1,1037.9 723.0,1041.0 725.0,1043.8 727.0,1046.1 728.9,1047.9 730.9,1048.7 732.9,1049.1 734.8,1050.0 736.8,1051.0 738.8,1052.3 740.7,1053.8 742.7,1055.1 744.7,1056.3 746.6,1057.6 748.6,1058.5 750.6,1058.4 752.5,1057.8 754.5,1057.0 756.5,1057.0 758.4,1057.6 760.4,1058.5 762.4,1059.4 764.3,1059.8 766.3,1060.1 768.3,1060.3 770.2,1060.4 772.2,1060.6 774.2,1060.8 776.1,1061.0 778.1,1061.1 780.1,1061.6 782.0,1062.3 784.0,1063.1 786.0,1063.9 787.9,1064.2 789.9,1063.8 791.9,1063.5 793.8,1063.2 795.8,1063.2 797.8,1063.7 799.7,1064.2 801.7,1064.4 803.7,1064.5 805.6,1064.3 807.6,1063.8 809.6,1062.8 811.5,1061.4 813.5,1059.7 815.5,1058.0 817.4,1056.4 819.4,1054.7 821.4,1053.1 823.3,1051.6 825.3,1049.7 827.3,1047.6 829.2,1045.0 831.2,1041.8 833.2,1037.9 835.1,1032.7 837.1,1026.6 839.1,1019.7 841.0,1013.0 843.0,1005.9 845.0,997.1 846.9,986.7 848.9,974.7 850.9,960.3 852.8,940.8 854.8,923.6 856.8,908.8 858.7,882.4 860.7,867.0 862.7,856.3 864.7,847.1 867.4,838.6 868.6,840.2 870.6,847.6 872.5,856.4 874.5,868.1 876.5,884.5 878.4,905.4 880.4,916.0 882.4,926.7 884.3,940.5 886.3,953.6 888.3,963.4 890.2,971.4 892.2,978.3 894.2,984.1 896.1,989.1 898.1,993.4 900.1,996.7 902.0,998.9 904.0,1000.2 906.0,1000.7 907.9,1000.5 909.9,1000.0 911.9,999.1 913.8,997.9 915.8,996.6 917.8,995.6 919.7,994.9 921.7,994.6 923.7,994.7 925.6,995.2 927.6,996.2 929.6,997.6 931.5,998.9 933.5,999.9 935.5,1000.7 937.4,1001.6 939.4,1002.4 941.4,1003.2 943.3,1003.6 945.3,1003.5 947.3,1003.1 949.2,1002.1 951.2,1000.6 953.2,998.9 955.1,996.8 957.1,994.3 959.1,991.4 961.0,988.0 963.0,983.9 965.0,979.2 966.9,974.0 968.9,968.1 970.9,961.3 972.8,953.8 974.8,945.4 976.8,936.0 978.7,925.9 980.7,915.4 982.7,904.1 984.6,892.2 986.6,879.1 988.6,866.3 990.5,855.0 992.5,844.2 994.5,831.2 996.4,812.1 998.4,792.3 1000.4,774.2 1002.3,755.8 1004.3,735.6 1006.3,713.9 1008.2,693.6 1010.2,673.3 1012.2,653.4 1014.1,633.6 1016.1,615.0 1018.1,598.4 1020.0,584.0 1022.0,570.9 1024.0,559.6 1025.9,547.8 1027.9,538.0 1029.5,532.6 1031.0,529.5 1032.0,528.8 1033.9,530.4 1035.8,536.3 1037.7,544.7 1039.7,554.9 1041.7,564.9 1043.6,573.0 1045.6,580.4 1047.6,587.7 1049.5,594.9 1051.5,602.3 1053.5,610.8 1055.4,619.4 1057.4,626.3 1059.4,632.3 1061.4,638.8 1063.3,646.0 1065.3,653.2 1067.3,659.9 1069.2,665.9 1071.2,672.7 1073.2,678.5 1075.1,683.7 1077.1,689.9 1079.1,696.6 1081.0,704.3 1083.0,711.6 1085.0,720.9 1086.9,729.3 1088.9,739.6 1090.9,750.0 1092.8,763.5 1094.8,774.9 1096.8,788.2 1098.7,802.2 1100.7,816.4 1102.7,831.7 1104.6,842.9 1106.6,851.1 1108.6,859.9 1110.5,871.6 1112.5,883.8 1114.5,893.1 1116.4,901.9 1118.4,910.0 1120.4,917.3 1122.3,925.1 1124.3,933.1 1126.3,940.4 1128.2,947.9 1130.2,955.7 1132.2,962.5 1134.1,968.6 1136.1,974.3 1138.1,979.5 1140.0,984.1 1142.0,988.1 1144.0,991.9 1145.9,995.7 1147.9,998.9 1149.9,1001.5 1151.8,1003.8 1153.8,1006.1 1155.8,1008.7 1157.7,1011.6 1159.7,1014.5 1161.7,1018.1 1163.6,1020.8 1165.6,1022.4 1167.6,1023.2 1169.5,1023.5 1171.5,1023.4 1173.5,1023.5 1175.4,1023.5 1177.4,1024.0 1179.4,1024.8 1181.3,1025.6 1183.3,1026.6 1185.3,1027.0 1187.2,1027.3 1189.2,1026.6 1191.2,1024.2 1193.1,1019.8 1195.1,1016.4 1197.1,1014.0 1199.0,1013.5 1201.0,1013.5 1203.0,1013.5 1204.9,1013.1 1206.9,1010.7 1208.9,1007.5 1210.8,1004.2 1212.8,999.7 1214.8,995.8 1216.7,992.4 1218.7,987.3 1220.7,982.4 1222.6,978.4 1224.6,975.5 1226.6,973.3 1228.5,971.3 1230.5,969.2 1232.5,966.9 1234.4,965.4 1236.4,964.6 1239.0,964.4 1240.3,966.2 1242.3,969.1 1244.3,972.1 1246.2,975.0 1248.2,978.3 1250.2,981.5 1252.1,984.8 1254.1,988.2 1256.1,991.6 1258.1,994.8 1260.0,998.0 1262.0,1000.7 1264.0,1003.8 1265.9,1007.8 1267.9,1011.8 1269.9,1013.2 1271.8,1011.9 1273.8,1012.1 1275.8,1015.2 1277.7,1019.4 1279.7,1023.3 1281.7,1025.1 1283.6,1026.6 1285.6,1027.3 1287.6,1027.7 1289.5,1028.5 1291.5,1030.1 1293.5,1031.6 1295.4,1032.5 1297.4,1033.6 1299.4,1035.3 1301.3,1036.6 1303.3,1037.4 1305.3,1036.7 1307.2,1035.1 1309.2,1033.5 1311.2,1031.5 1313.1,1029.5 1315.1,1027.5 1317.1,1025.5 1319.0,1024.2 1321.0,1023.5 1323.0,1023.1 1324.9,1021.9 1326.9,1021.1 1328.9,1021.2 1330.8,1021.5 1332.8,1022.2 1334.8,1022.8 1336.7,1022.4 1338.7,1022.1 1340.7,1022.2 1341.8,1022.2 1344.6,1023.9 1346.6,1025.6 1348.5,1027.3 1350.5,1029.2 1352.5,1031.7 1354.4,1033.9 1356.4,1035.6 1358.4,1038.1 1360.3,1040.8 1362.3,1043.6 1364.3,1046.8 1366.2,1050.4 1368.2,1053.6 1370.2,1055.2 1372.1,1057.6 1374.1,1058.2 1376.1,1058.7 1378.0,1060.0 1380.0,1062.8 1382.0,1066.3 1383.9,1068.2 1385.9,1070.6 1387.9,1072.9 1389.8,1073.7 1391.8,1074.6 1393.8,1076.5 1395.7,1078.1 1397.7,1080.0 1399.7,1082.9 1401.6,1085.9 1403.6,1088.0 1405.6,1089.6 1407.5,1090.6 1409.5,1090.7 1411.5,1090.6 1413.4,1091.2 1415.4,1091.7 1417.4,1092.1 1419.3,1092.6 1421.3,1094.1 1423.3,1096.0 1425.2,1095.6 1427.2,1093.6 1429.2,1092.6 1431.1,1093.7 1433.1,1095.7 1435.1,1097.2 1437.0,1099.0 1439.0,1100.3 1441.0,1102.1 1442.9,1103.3 1444.9,1101.8 1446.9,1099.6 1448.8,1097.6 1450.8,1095.7 1452.8,1094.6 1454.8,1093.2 1456.7,1092.1 1458.7,1092.0 1460.7,1092.4 1462.6,1093.4 1464.6,1095.5 1466.6,1096.2 1468.5,1095.9 1470.5,1095.1 1472.5,1095.1 1474.4,1096.0 1476.4,1097.1 1478.4,1097.9 1480.3,1097.7 1482.3,1096.1 1484.3,1095.3 1486.2,1095.4 1488.2,1095.4 1490.2,1095.4 1492.1,1095.7 1494.1,1097.0 1496.1,1097.3 1498.0,1097.3 1500.0,1097.0 1502.0,1096.5 1503.9,1095.7 1505.9,1094.9 1507.9,1094.4 1509.8,1094.5 1511.8,1094.7 1513.8,1095.4 1515.7,1096.5 1517.7,1097.9 1519.7,1099.3 1521.6,1100.9 1523.6,1102.1 1525.6,1102.4 1527.5,1102.8 1529.5,1102.5 1531.5,1101.7 1533.4,1099.9 1535.4,1097.8 1537.4,1096.9 1539.3,1096.8 1541.3,1097.5 1543.3,1098.1 1545.2,1097.3 1547.2,1095.8 1549.2,1095.4 1551.1,1096.1 1553.1,1097.3 1555.1,1098.6 1557.0,1098.6 1559.0,1098.1 1561.0,1097.7 1562.9,1097.5 1564.9,1097.6 1566.9,1098.2 1568.8,1098.6 1570.8,1097.9 1572.8,1095.3 1574.7,1092.3 1576.7,1090.2 1578.7,1090.4 1580.6,1091.9 1582.6,1093.4 1584.6,1095.5 1586.5,1096.4 1588.5,1096.2 1590.5,1095.8 1592.4,1095.7 1594.4,1095.5 1596.4,1096.1 1598.3,1096.6 1600.3,1096.5 1602.3,1096.2 1604.2,1095.3 1606.2,1094.3 1608.2,1094.1 1610.1,1094.1 1612.1,1094.5 1614.1,1094.8 1616.0,1094.8 1618.0,1094.9 1620.0,1095.2 1621.9,1096.4 1623.9,1097.7 1625.9,1098.0 1627.8,1098.0 1629.8,1097.4 1631.8,1096.8 1633.7,1096.1 1635.7,1096.0 1637.7,1097.1 1639.6,1098.1 1641.6,1099.1 1643.6,1099.5 1645.5,1098.7 1647.5,1098.4 1649.5,1098.1 1651.5,1096.9 1653.4,1094.0 1655.4,1090.5 1657.4,1088.7 1659.3,1089.9 1661.3,1092.9 1663.3,1095.4 1665.2,1098.7 1667.2,1101.1 1669.2,1101.2 1671.1,1100.9 1673.1,1099.3 1675.1,1098.0 1677.0,1097.3 1679.0,1096.7 1681.0,1097.8 1682.9,1099.1 1684.9,1100.8 1686.9,1102.6 1688.8,1102.7 1690.8,1102.0 1692.8,1099.8 1694.7,1097.2 1696.7,1095.8 1698.7,1095.1 1700.6,1096.7 1702.6,1099.6 1704.6,1101.6 1706.5,1103.3 1708.5,1104.7 1710.5,1105.9 1712.4,1107.3 1714.4,1108.1 1716.4,1108.4 1718.3,1108.3 1720.3,1108.2 1722.3,1108.4 1724.2,1108.6 1726.2,1108.4 1728.2,1108.3 1730.1,1108.3 1732.1,1108.1 1734.1,1107.6 1736.0,1106.3 1738.0,1104.5 1740.0,1102.9 1741.9,1101.7 1743.9,1100.5 1746.0,1099.7"/>
<polyline stroke="#008080" points="366.0,1088.0 367.0,1088.0 369.0,1087.0 370.9,1086.2 372.9,1085.7 374.9,1085.3 376.8,1084.8 378.8,1084.5 380.8,1084.2 382.7,1084.1 384.7,1084.6 386.7,1085.2 388.6,1085.4 390.6,1085.6 392.6,1085.3 394.5,1084.9 396.5,1084.7 398.5,1084.6 400.4,1084.9 402.4,1085.4 404.4,1085.8 406.3,1086.1 408.3,1086.1 410.3,1086.0 412.2,1086.3 414.2,1086.9 416.2,1087.7 418.1,1088.5 420.1,1089.3 422.1,1090.3 424.0,1091.5 426.0,1092.7 428.0,1093.4 429.9,1093.3 431.9,1092.5 433.9,1091.2 435.8,1090.0 437.8,1089.3 439.8,1089.2 441.7,1089.9 443.7,1091.5 445.7,1092.9 447.6,1094.2 449.6,1094.8 451.6,1095.0 453.5,1095.9 455.5,1096.7 457.5,1097.3 459.4,1097.8 461.4,1097.8 463.4,1097.9 465.3,1098.3 467.3,1098.9 469.3,1100.0 471.3,1101.1 473.2,1102.6 475.2,1103.3 477.2,1103.6 479.1,1103.4 481.1,1102.8 483.1,1101.2 485.0,1099.4 487.0,1097.9 489.0,1098.2 490.9,1100.5 492.9,1103.3 494.9,1104.0 496.8,1103.2 498.8,1100.4 500.8,1098.0 502.7,1097.1 504.7,1097.2 506.7,1097.6 508.6,1097.7 510.6,1097.5 512.6,1096.9 514.5,1095.9 516.5,1094.7 518.5,1093.7 520.4,1093.1 522.4,1093.1 524.4,1093.3 526.3,1093.5 528.3,1093.3 530.3,1092.8 532.2,1091.2 534.2,1088.8 536.2,1086.7 538.1,1085.4 540.1,1085.1 542.1,1085.6 544.0,1085.4 546.0,1084.9 548.0,1083.6 549.9,1081.4 551.9,1079.3 553.9,1077.5 555.8,1076.0 557.8,1075.0 559.8,1074.0 561.7,1072.6 563.7,1070.7 565.7,1068.5 567.6,1066.8 569.6,1065.9 571.6,1065.2 573.7,1065.1 575.5,1065.5 577.5,1066.2 579.4,1067.1 581.4,1068.3 583.4,1069.5 585.3,1070.2 587.3,1070.6 589.3,1070.7 591.2,1070.5 593.2,1069.8 595.2,1068.9 597.1,1067.6 599.1,1066.4 601.1,1066.4 603.0,1066.2 605.0,1066.3 607.0,1065.2 608.9,1062.9 610.9,1060.9 612.9,1059.5 614.8,1058.4 616.8,1056.5 618.8,1053.9 620.7,1050.2 622.7,1045.6 624.7,1040.3 626.6,1033.2 628.6,1024.4 630.6,1019.0 632.5,1011.9 634.5,999.1 636.5,981.9 638.4,961.4 640.4,933.2 642.4,900.8 644.3,863.2 646.3,820.6 648.3,777.9 650.2,723.6 652.2,682.9 654.2,640.1 656.1,616.5 658.4,604.8 660.1,611.7 662.0,633.0 664.0,669.2 666.0,707.7 668.0,747.7 669.9,784.9 671.9,821.1 673.9,855.1 675.8,883.9 677.8,908.1 679.8,931.1 681.7,954.3 683.7,969.7 685.7,981.9 687.6,992.3 689.6,1000.9 691.6,1007.3 693.5,1011.6 695.5,1014.4 697.5,1016.5 699.4,1018.4 701.4,1020.4 703.4,1022.7 705.3,1025.3 707.3,1028.0 709.3,1030.7 711.2,1033.2 713.2,1035.5 715.2,1038.1 717.1,1041.0 719.1,1044.0 721.1,1046.9 723.0,1048.9 725.0,1050.4 727.0,1051.7 728.9,1052.5 730.9,1053.6 732.9,1054.7 734.8,1055.5 736.8,1056.1 738.8,1056.9 740.7,1057.6 742.7,1058.4 744.7,1059.2 746.6,1060.1 748.6,1060.9 750.6,1061.8 752.5,1062.6 754.5,1063.5 756.5,1063.8 758.4,1063.7 760.4,1063.2 762.4,1062.5 764.3,1062.4 766.3,1062.5 768.3,1062.9 770.2,1063.6 772.2,1063.2 774.2,1062.2 776.1,1060.8 778.1,1059.1 780.1,1058.5 782.0,1058.8 784.0,1059.3 786.0,1060.2 787.9,1060.7 789.9,1060.9 791.9,1060.8 793.8,1060.4 795.8,1059.6 797.8,1058.5 799.7,1057.6 801.7,1057.3 803.7,1057.3 805.6,1057.9 807.6,1058.0 809.6,1057.3 811.5,1056.0 813.5,1054.0 815.5,1051.8 817.4,1049.6 819.4,1047.1 821.4,1044.5 823.3,1041.9 825.3,1039.1 827.3,1035.9 829.2,1032.1 831.2,1027.2 833.2,1021.1 835.1,1013.5 837.1,1004.7 839.1,994.5 841.0,984.4 843.0,973.7 845.0,960.4 846.9,944.6 848.9,926.4 850.9,904.8 852.8,875.3 854.8,849.6 856.8,827.6 858.7,788.1 860.7,764.9 862.7,749.0 864.7,735.2 867.4,722.6 868.6,725.1 870.6,736.6 872.5,750.4 874.5,768.6 876.5,793.9 878.4,826.1 880.4,842.7 882.4,859.2 884.3,880.5 886.3,900.8 888.3,916.0 890.2,929.0 892.2,940.4 894.2,950.4 896.1,959.1 898.1,966.5 900.1,972.4 902.0,976.6 904.0,979.8 906.0,982.0 907.9,983.4 909.9,984.2 911.9,984.7 913.8,984.5 915.8,984.0 917.8,983.6 919.7,983.5 921.7,983.9 923.7,984.6 925.6,985.9 927.6,987.8 929.6,990.3 931.5,992.6 933.5,994.4 935.5,996.0 937.4,997.6 939.4,999.3 941.4,1001.0 943.3,1002.3 945.3,1002.8 947.3,1003.0 949.2,1002.6 951.2,1001.8 953.2,1000.7 955.1,999.2 957.1,997.4 959.1,995.2 961.0,992.6 963.0,989.5 965.0,985.9 966.9,981.8 968.9,977.0 970.9,971.4 972.8,965.2 974.8,958.2 976.8,950.1 978.7,941.6 980.7,932.6 982.7,922.8 984.6,912.1 986.6,899.7 988.6,887.6 990.5,876.9 992.5,866.6 994.5,853.9 996.4,836.0 998.4,817.4 1000.4,799.7 1002.3,781.6 1004.3,760.8 1006.3,737.9 1008.2,716.6 1010.2,695.1 1012.2,673.1 1014.1,650.3 1016.1,628.2 1018.1,607.5 1020.0,588.3 1022.0,570.0 1024.0,553.4 1025.9,535.9 1027.9,521.0 1029.5,512.8 1031.0,507.7 1032.0,506.1 1033.9,505.4 1035.8,508.4 1037.7,514.2 1039.7,524.0 1041.7,536.4 1043.6,550.7 1045.6,567.5 1047.6,585.7 1049.5,602.9 1051.5,618.2 1053.5,631.1 1055.4,641.8 1057.4,649.9 1059.4,657.7 1061.4,665.8 1063.3,674.6 1065.3,683.5 1067.3,691.6 1069.2,698.4 1071.2,706.7 1073.2,715.9 1075.1,724.7 1077.1,733.8 1079.1,743.2 1081.0,755.2 1083.0,770.1 1085.0,782.9 1086.9,794.0 1088.9,805.5 1090.9,815.9 1092.8,823.8 1094.8,831.9 1096.8,842.3 1098.7,853.6 1100.7,865.1 1102.7,876.1 1104.6,883.0 1106.6,887.4 1108.6,891.6 1110.5,898.1 1112.5,905.7 1114.5,912.9 1116.4,920.4 1118.4,927.7 1120.4,934.7 1122.3,940.9 1124.3,947.2 1126.3,953.7 1128.2,959.8 1130.2,965.8 1132.2,971.1 1134.1,976.0 1136.1,980.3 1138.1,984.2 1140.0,987.9 1142.0,991.3 1144.0,994.6 1145.9,997.5 1147.9,999.9 1149.9,1001.9 1151.8,1003.7 1153.8,1004.9 1155.8,1005.9 1157.7,1007.5 1159.7,1009.7 1161.7,1012.8 1163.6,1016.2 1165.6,1018.6 1167.6,1020.1 1169.5,1021.0 1171.5,1020.8 1173.5,1020.4 1175.4,1019.9 1177.4,1019.1 1179.4,1018.3 1181.3,1017.1 1183.3,1015.4 1185.3,1013.8 1187.2,1012.4 1189.2,1010.6 1191.2,1009.5 1193.1,1008.0 1195.1,1005.9 1197.1,1003.9 1199.0,1002.2 1201.0,999.2 1203.0,994.8 1204.9,991.4 1206.9,986.9 1208.9,981.5 1210.8,975.7 1212.8,968.6 1214.8,960.5 1216.7,957.3 1218.7,952.1 1220.7,945.7 1222.6,939.9 1224.6,935.8 1226.6,932.8 1228.5,928.8 1230.5,924.5 1232.5,921.1 1234.4,919.6 1236.4,918.6 1239.0,917.2 1240.3,918.3 1242.3,918.8 1244.3,919.8 1246.2,921.6 1248.2,924.7 1250.2,928.8 1252.1,934.6 1254.1,940.5 1256.1,946.1 1258.1,951.4 1260.0,956.2 1262.0,960.4 1264.0,965.2 1265.9,970.9 1267.9,976.2 1269.9,977.8 1271.8,978.3 1273.8,981.2 1275.8,985.9 1277.7,990.2 1279.7,993.5 1281.7,996.4 1283.6,999.3 1285.6,1001.4 1287.6,1002.6 1289.5,1003.6 1291.5,1004.6 1293.5,1005.3 1295.4,1005.4 1297.4,1005.3 1299.4,1004.9 1301.3,1004.7 1303.3,1005.2 1305.3,1005.9 1307.2,1006.2 1309.2,1006.1 1311.2,1004.0 1313.1,999.9 1315.1,996.9 1317.1,994.4 1319.0,993.2 1321.0,993.1 1323.0,992.5 1324.9,990.7 1326.9,989.6 1328.9,989.2 1330.8,988.1 1332.8,986.5 1334.8,985.8 1336.7,985.4 1338.7,984.8 1340.7,985.1 1341.8,985.6 1344.6,987.2 1346.6,988.6 1348.5,991.4 1350.5,994.9 1352.5,999.2 1354.4,1002.6 1356.4,1005.3 1358.4,1007.8 1360.3,1010.0 1362.3,1012.5 1364.3,1015.3 1366.2,1018.6 1368.2,1022.1 1370.2,1024.6 1372.1,1028.6 1374.1,1031.6 1376.1,1034.4 1378.0,1038.0 1380.0,1042.7 1382.0,1047.1 1383.9,1050.7 1385.9,1054.6 1387.9,1058.0 1389.8,1059.9 1391.8,1061.5 1393.8,1063.4 1395.7,1065.4 1397.7,1067.5 1399.7,1069.9 1401.6,1072.8 1403.6,1075.5 1405.6,1077.7 1407.5,1079.8 1409.5,1080.9 1411.5,1081.1 1413.4,1081.6 1415.4,1082.0 1417.4,1082.7 1419.3,1082.9 1421.3,1082.7 1423.3,1082.8 1425.2,1083.2 1427.2,1083.8 1429.2,1084.6 1431.1,1085.8 1433.1,1087.8 1435.1,1091.0 1437.0,1095.1 1439.0,1097.1 1441.0,1097.4 1442.9,1098.1 1444.9,1097.3 1446.9,1095.2 1448.8,1094.1 1450.8,1093.1 1452.8,1092.2 1454.8,1091.1 1456.7,1090.2 1458.7,1089.9 1460.7,1091.0 1462.6,1092.7 1464.6,1095.4 1466.6,1097.1 1468.5,1097.5 1470.5,1097.2 1472.5,1096.4 1474.4,1096.1 1476.4,1095.8 1478.4,1095.1 1480.3,1094.1 1482.3,1092.0 1484.3,1090.9 1486.2,1090.7 1488.2,1090.6 1490.2,1090.5 1492.1,1090.7 1494.1,1091.8 1496.1,1091.6 1498.0,1091.1 1500.0,1091.4 1502.0,1092.5 1503.9,1093.5 1505.9,1094.4 1507.9,1094.5 1509.8,1093.5 1511.8,1092.8 1513.8,1092.5 1515.7,1092.7 1517.7,1093.7 1519.7,1094.7 1521.6,1095.8 1523.6,1096.9 1525.6,1097.9 1527.5,1099.1 1529.5,1100.0 1531.5,1100.3 1533.4,1099.5 1535.4,1098.1 1537.4,1096.6 1539.3,1096.1 1541.3,1095.8 1543.3,1095.6 1545.2,1095.5 1547.2,1094.4 1549.2,1094.1 1551.1,1094.7 1553.1,1095.1 1555.1,1095.5 1557.0,1095.5 1559.0,1094.9 1561.0,1094.4 1562.9,1094.2 1564.9,1094.3 1566.9,1094.9 1568.8,1095.3 1570.8,1094.8 1572.8,1091.9 1574.7,1088.5 1576.7,1086.6 1578.7,1087.2 1580.6,1089.7 1582.6,1092.2 1584.6,1094.8 1586.5,1096.0 1588.5,1095.7 1590.5,1095.2 1592.4,1094.8 1594.4,1094.5 1596.4,1094.4 1598.3,1094.0 1600.3,1093.3 1602.3,1092.5 1604.2,1091.8 1606.2,1091.6 1608.2,1092.1 1610.1,1092.8 1612.1,1093.5 1614.1,1093.8 1616.0,1093.4 1618.0,1092.9 1620.0,1092.6 1621.9,1093.4 1623.9,1094.8 1625.9,1095.9 1627.8,1097.1 1629.8,1098.6 1631.8,1099.6 1633.7,1100.3 1635.7,1100.6 1637.7,1100.3 1639.6,1099.8 1641.6,1098.7 1643.6,1097.8 1645.5,1097.4 1647.5,1097.6 1649.5,1098.1 1651.5,1097.5 1653.4,1093.9 1655.4,1089.9 1657.4,1088.0 1659.3,1089.2 1661.3,1092.0 1663.3,1094.2 1665.2,1096.6 1667.2,1098.0 1669.2,1098.2 1671.1,1097.9 1673.1,1097.3 1675.1,1097.0 1677.0,1096.6 1679.0,1096.3 1681.0,1096.0 1682.9,1096.0 1684.9,1096.9 1686.9,1097.9 1688.8,1098.5 1690.8,1098.4 1692.8,1097.6 1694.7,1096.5 1696.7,1095.8 1698.7,1095.8 1700.6,1096.5 1702.6,1098.3 1704.6,1099.4 1706.5,1100.1 1708.5,1101.5 1710.5,1102.8 1712.4,1104.2 1714.4,1104.9 1716.4,1104.9 1718.3,1104.6 1720.3,1104.9 1722.3,1105.8 1724.2,1106.7 1726.2,1107.2 1728.2,1107.2 1730.1,1107.1 1732.1,1106.7 1734.1,1106.1 1736.0,1105.3 1738.0,1104.5 1740.0,1104.1 1741.9,1104.3 1743.9,1104.3 1746.0,1104.3"/>
<polyline stroke="#ff00ff" points="366.0,1087.5 367.0,1087.9 369.0,1087.5 370.9,1087.1 372.9,1086.2 374.9,1085.3 376.8,1084.6 378.8,1084.0 380.8,1083.8 382.7,1083.8 384.7,1084.1 386.7,1084.5 388.6,1084.7 390.6,1084.9 392.6,1085.3 394.5,1085.8 396.5,1085.9 398.5,1085.9 400.4,1085.3 402.4,1084.4 404.4,1084.2 406.3,1084.2 408.3,1084.8 410.3,1085.7 412.2,1086.5 414.2,1087.2 416.2,1088.0 418.1,1088.8 420.1,1089.7 422.1,1090.7 424.0,1091.4 426.0,1091.7 428.0,1091.6 429.9,1091.2 431.9,1090.7 433.9,1090.5 435.8,1090.1 437.8,1089.8 439.8,1089.5 441.7,1089.3 443.7,1090.1 445.7,1091.5 447.6,1093.0 449.6,1094.3 451.6,1094.9 453.5,1095.5 455.5,1095.9 457.5,1096.1 459.4,1096.1 461.4,1096.3 463.4,1096.5 465.3,1097.0 467.3,1097.7 469.3,1098.6 471.3,1099.4 473.2,1099.7 475.2,1099.8 477.2,1100.0 479.1,1099.9 481.1,1099.9 483.1,1099.6 485.0,1098.7 487.0,1098.1 489.0,1098.3 490.9,1100.4 492.9,1103.2 494.9,1104.0 496.8,1103.2 498.8,1100.1 500.8,1097.3 502.7,1096.8 504.7,1097.4 506.7,1098.2 508.6,1098.9 510.6,1099.3 512.6,1098.6 514.5,1097.3 516.5,1095.3 518.5,1093.4 520.4,1091.9 522.4,1091.1 524.4,1091.0 526.3,1091.0 528.3,1091.4 530.3,1091.8 532.2,1091.2 534.2,1089.7 536.2,1087.4 538.1,1085.2 540.1,1083.5 542.1,1081.7 544.0,1080.7 546.0,1080.6 548.0,1080.3 549.9,1079.8 551.9,1078.7 553.9,1077.0 555.8,1075.6 557.8,1074.8 559.8,1074.1 561.7,1073.7 563.7,1072.8 565.7,1071.6 567.6,1070.7 569.6,1070.0 571.6,1069.5 573.7,1069.0 575.5,1069.0 577.5,1069.2 579.4,1069.6 581.4,1070.5 583.4,1071.5 585.3,1072.3 587.3,1072.9 589.3,1072.6 591.2,1072.1 593.2,1071.4 595.2,1070.7 597.1,1071.1 599.1,1071.6 601.1,1073.2 603.0,1074.8 605.0,1075.3 607.0,1074.6 608.9,1071.8 610.9,1069.0 612.9,1067.6 614.8,1066.5 616.8,1065.1 618.8,1063.0 620.7,1060.0 622.7,1056.1 624.7,1051.6 626.6,1046.2 628.6,1039.8 630.6,1035.9 632.5,1030.9 634.5,1022.4 636.5,1010.8 638.4,997.0 640.4,977.6 642.4,955.0 644.3,928.7 646.3,899.0 648.3,869.6 650.2,832.4 652.2,804.4 654.2,775.1 656.1,758.8 658.4,750.5 660.1,754.9 662.0,769.0 664.0,795.4 666.0,823.8 668.0,853.2 669.9,880.2 671.9,906.7 673.9,929.6 675.8,948.1 677.8,964.5 679.8,980.5 681.7,993.5 683.7,1002.7 685.7,1010.2 687.6,1016.5 689.6,1021.4 691.6,1024.9 693.5,1027.1 695.5,1028.5 697.5,1029.6 699.4,1030.7 701.4,1032.2 703.4,1034.2 705.3,1036.6 707.3,1039.3 709.3,1041.8 711.2,1043.8 713.2,1045.6 715.2,1047.3 717.1,1048.9 719.1,1050.3 721.1,1052.0 723.0,1053.9 725.0,1055.7 727.0,1057.5 728.9,1059.1 730.9,1060.6 732.9,1061.8 734.8,1062.7 736.8,1063.6 738.8,1064.5 740.7,1065.1 742.7,1065.3 744.7,1064.8 746.6,1063.7 748.6,1062.9 750.6,1062.1 752.5,1062.0 754.5,1062.3 756.5,1063.1 758.4,1064.1 760.4,1064.5 762.4,1064.7 764.3,1064.1 766.3,1063.1 768.3,1062.0 770.2,1061.0 772.2,1060.3 774.2,1060.0 776.1,1060.1 778.1,1060.8 780.1,1061.6 782.0,1062.6 784.0,1063.2 786.0,1063.4 787.9,1062.7 789.9,1061.2 791.9,1059.6 793.8,1058.0 795.8,1056.8 797.8,1056.2 799.7,1055.6 801.7,1055.1 803.7,1054.5 805.6,1053.8 807.6,1052.8 809.6,1051.4 811.5,1049.5 813.5,1047.1 815.5,1044.5 817.4,1041.4 819.4,1037.9 821.4,1034.3 823.3,1030.6 825.3,1026.1 827.3,1021.1 829.2,1015.4 831.2,1008.5 833.2,1000.0 835.1,989.6 837.1,977.5 839.1,963.4 841.0,949.1 843.0,934.0 845.0,915.0 846.9,892.7 848.9,867.0 850.9,836.3 852.8,794.7 854.8,758.6 856.8,727.7 858.7,671.9 860.7,639.3 862.7,616.9 864.7,597.5 867.4,579.9 868.6,583.6 870.6,600.1 872.5,619.9 874.5,646.1 876.5,682.4 878.4,728.4 880.4,752.3 882.4,776.0 884.3,806.4 886.3,835.5 888.3,857.4 890.2,876.4 892.2,893.4 894.2,908.3 896.1,921.5 898.1,932.8 900.1,941.7 902.0,948.5 904.0,953.8 906.0,958.1 907.9,961.4 909.9,963.9 911.9,965.9 913.8,967.0 915.8,967.3 917.8,967.6 919.7,968.2 921.7,969.4 923.7,970.9 925.6,973.0 927.6,976.0 929.6,979.8 931.5,983.4 933.5,986.2 935.5,988.7 937.4,991.3 939.4,994.0 941.4,996.8 943.3,999.0 945.3,1000.4 947.3,1001.3 949.2,1001.6 951.2,1001.5 953.2,1001.1 955.1,1000.4 957.1,999.3 959.1,997.9 961.0,996.3 963.0,994.2 965.0,991.8 966.9,989.0 968.9,985.3 970.9,981.0 972.8,976.1 974.8,970.5 976.8,964.0 978.7,957.0 980.7,949.6 982.7,941.4 984.6,931.9 986.6,920.0 988.6,908.4 990.5,898.3 992.5,888.2 994.5,875.7 996.4,858.9 998.4,841.2 1000.4,823.6 1002.3,805.5 1004.3,783.6 1006.3,758.6 1008.2,736.3 1010.2,713.7 1012.2,690.0 1014.1,664.6 1016.1,639.7 1018.1,615.5 1020.0,592.1 1022.0,569.1 1024.0,547.7 1025.9,524.5 1027.9,504.7 1029.5,493.8 1031.0,486.9 1032.0,484.6 1033.9,482.8 1035.8,486.0 1037.7,493.1 1039.7,505.7 1041.7,522.0 1043.6,541.0 1045.6,563.7 1047.6,588.4 1049.5,611.8 1051.5,632.7 1053.5,650.6 1055.4,665.3 1057.4,677.0 1059.4,687.1 1061.4,695.7 1063.3,707.5 1065.3,722.9 1067.3,738.3 1069.2,751.2 1071.2,764.6 1073.2,776.9 1075.1,787.6 1077.1,798.2 1079.1,808.0 1081.0,817.5 1083.0,828.1 1085.0,837.5 1086.9,845.9 1088.9,854.5 1090.9,862.6 1092.8,868.8 1094.8,874.8 1096.8,882.0 1098.7,887.7 1100.7,890.9 1102.7,895.6 1104.6,902.3 1106.6,908.2 1108.6,913.5 1110.5,919.3 1112.5,925.6 1114.5,932.0 1116.4,938.4 1118.4,944.6 1120.4,949.9 1122.3,955.8 1124.3,961.8 1126.3,966.8 1128.2,971.6 1130.2,976.3 1132.2,980.3 1134.1,983.8 1136.1,987.2 1138.1,990.3 1140.0,993.0 1142.0,995.5 1144.0,997.9 1145.9,999.9 1147.9,1001.5 1149.9,1002.9 1151.8,1004.3 1153.8,1005.5 1155.8,1006.2 1157.7,1006.8 1159.7,1007.8 1161.7,1009.5 1163.6,1011.0 1165.6,1011.9 1167.6,1012.7 1169.5,1014.0 1171.5,1013.9 1173.5,1013.7 1175.4,1013.3 1177.4,1012.2 1179.4,1010.9 1181.3,1009.5 1183.3,1007.8 1185.3,1005.8 1187.2,1004.4 1189.2,1003.3 1191.2,1002.1 1193.1,998.7 1195.1,994.4 1197.1,989.8 1199.0,984.8 1201.0,980.0 1203.0,976.0 1204.9,972.1 1206.9,966.8 1208.9,960.4 1210.8,952.7 1212.8,944.8 1214.8,939.1 1216.7,933.5 1218.7,924.4 1220.7,915.2 1222.6,906.5 1224.6,896.9 1226.6,888.3 1228.5,882.4 1230.5,877.8 1232.5,872.6 1234.4,867.8 1236.4,864.9 1239.0,862.8 1240.3,863.8 1242.3,865.0 1244.3,866.7 1246.2,869.7 1248.2,875.0 1250.2,880.8 1252.1,887.6 1254.1,895.3 1256.1,902.5 1258.1,909.1 1260.0,915.7 1262.0,922.2 1264.0,926.9 1265.9,930.4 1267.9,935.9 1269.9,938.8 1271.8,939.9 1273.8,942.7 1275.8,949.3 1277.7,955.1 1279.7,957.7 1281.7,959.5 1283.6,961.5 1285.6,965.1 1287.6,969.3 1289.5,972.1 1291.5,974.4 1293.5,976.3 1295.4,977.7 1297.4,978.6 1299.4,978.7 1301.3,978.1 1303.3,977.1 1305.3,976.0 1307.2,974.1 1309.2,971.7 1311.2,968.9 1313.1,965.7 1315.1,962.7 1317.1,960.6 1319.0,958.7 1321.0,956.9 1323.0,955.6 1324.9,953.2 1326.9,950.4 1328.9,948.4 1330.8,947.0 1332.8,947.0 1334.8,947.4 1336.7,946.8 1338.7,946.1 1340.7,946.3 1341.8,946.5 1344.6,948.0 1346.6,949.9 1348.5,953.3 1350.5,957.1 1352.5,961.3 1354.4,964.2 1356.4,966.8 1358.4,969.6 1360.3,973.0 1362.3,977.8 1364.3,983.1 1366.2,988.9 1368.2,995.0 1370.2,1000.7 1372.1,1006.9 1374.1,1014.1 1376.1,1020.6 1378.0,1026.6 1380.0,1032.4 1382.0,1036.7 1383.9,1040.1 1385.9,1043.5 1387.9,1046.2 1389.8,1048.7 1391.8,1051.5 1393.8,1054.0 1395.7,1055.9 1397.7,1058.3 1399.7,1061.2 1401.6,1064.0 1403.6,1066.0 1405.6,1067.8 1407.5,1069.3 1409.5,1069.8 1411.5,1069.9 1413.4,1070.4 1415.4,1071.1 1417.4,1072.3 1419.3,1073.6 1421.3,1075.1 1423.3,1076.4 1425.2,1077.1 1427.2,1077.5 1429.2,1078.5 1431.1,1080.0 1433.1,1082.3 1435.1,1086.1 1437.0,1090.8 1439.0,1092.9 1441.0,1094.1 1442.9,1095.3 1444.9,1095.0 1446.9,1093.4 1448.8,1092.3 1450.8,1091.3 1452.8,1090.2 1454.8,1089.1 1456.7,1087.8 1458.7,1086.5 1460.7,1086.6 1462.6,1087.3 1464.6,1088.7 1466.6,1089.4 1468.5,1089.5 1470.5,1089.2 1472.5,1088.9 1474.4,1089.4 1476.4,1089.9 1478.4,1090.0 1480.3,1089.0 1482.3,1086.6 1484.3,1085.0 1486.2,1084.4 1488.2,1084.6 1490.2,1085.3 1492.1,1086.5 1494.1,1088.8 1496.1,1089.5 1498.0,1089.7 1500.0,1089.7 1502.0,1089.6 1503.9,1089.5 1505.9,1089.1 1507.9,1088.6 1509.8,1087.8 1511.8,1087.3 1513.8,1087.2 1515.7,1087.7 1517.7,1088.8 1519.7,1089.8 1521.6,1090.4 1523.6,1090.9 1525.6,1091.0 1527.5,1091.5 1529.5,1092.3 1531.5,1092.5 1533.4,1092.0 1535.4,1090.8 1537.4,1090.3 1539.3,1090.7 1541.3,1092.0 1543.3,1093.1 1545.2,1092.5 1547.2,1090.9 1549.2,1089.5 1551.1,1089.3 1553.1,1089.8 1555.1,1090.4 1557.0,1090.3 1559.0,1089.7 1561.0,1089.2 1562.9,1089.0 1564.9,1089.7 1566.9,1091.0 1568.8,1092.3 1570.8,1092.6 1572.8,1090.0 1574.7,1086.8 1576.7,1084.7 1578.7,1085.2 1580.6,1087.1 1582.6,1088.8 1584.6,1091.4 1586.5,1092.8 1588.5,1093.4 1590.5,1093.9 1592.4,1094.3 1594.4,1094.4 1596.4,1094.4 1598.3,1093.8 1600.3,1092.6 1602.3,1091.3 1604.2,1090.3 1606.2,1090.0 1608.2,1090.6 1610.1,1091.6 1612.1,1092.0 1614.1,1091.6 1616.0,1091.0 1618.0,1090.7 1620.0,1090.9 1621.9,1092.9 1623.9,1094.6 1625.9,1094.8 1627.8,1095.0 1629.8,1095.2 1631.8,1095.6 1633.7,1096.4 1635.7,1096.7 1637.7,1096.5 1639.6,1096.1 1641.6,1095.3 1643.6,1094.8 1645.5,1094.9 1647.5,1095.7 1649.5,1096.8 1651.5,1096.7 1653.4,1093.4 1655.4,1089.5 1657.4,1087.6 1659.3,1089.1 1661.3,1092.0 1663.3,1094.4 1665.2,1096.5 1667.2,1097.7 1669.2,1097.4 1671.1,1096.7 1673.1,1096.0 1675.1,1095.7 1677.0,1095.3 1679.0,1095.1 1681.0,1095.7 1682.9,1096.5 1684.9,1098.1 1686.9,1099.7 1688.8,1100.0 1690.8,1099.5 1692.8,1097.9 1694.7,1096.0 1696.7,1094.6 1698.7,1093.9 1700.6,1094.8 1702.6,1096.5 1704.6,1098.1 1706.5,1099.4 1708.5,1100.4 1710.5,1101.1 1712.4,1101.4 1714.4,1101.0 1716.4,1100.0 1718.3,1099.0 1720.3,1098.5 1722.3,1098.6 1724.2,1098.8 1726.2,1098.5 1728.2,1098.2 1730.1,1097.9 1732.1,1097.3 1734.1,1096.2 1736.0,1094.1 1738.0,1091.8 1740.0,1090.1 1741.9,1089.1 1743.9,1088.6 1746.0,1089.0"/>
<polyline stroke="#808000" points="366.0,1083.2 367.0,1083.3 369.0,1082.4 370.9,1081.6 372.9,1080.6 374.9,1080.0 376.8,1079.5 378.8,1079.0 380.8,1079.1 382.7,1079.4 384.7,1079.6 386.7,1080.0 388.6,1079.9 390.6,1079.6 392.6,1079.5 394.5,1079.4 396.5,1079.8 398.5,1080.3 400.4,1080.9 402.4,1081.5 404.4,1081.8 406.3,1081.9 408.3,1082.0 410.3,1082.1 412.2,1082.4 414.2,1082.9 416.2,1083.4 418.1,1083.9 420.1,1084.5 422.1,1085.3 424.0,1086.4 426.0,1087.6 428.0,1088.4 429.9,1088.5 431.9,1087.8 433.9,1086.2 435.8,1084.8 437.8,1083.9 439.8,1083.5 441.7,1084.2 443.7,1085.9 445.7,1088.0 447.6,1090.0 449.6,1091.6 451.6,1092.5 453.5,1093.5 455.5,1094.5 457.5,1095.6 459.4,1096.5 461.4,1096.9 463.4,1097.2 465.3,1097.2 467.3,1097.5 469.3,1098.3 471.3,1099.2 473.2,1100.3 475.2,1101.2 477.2,1101.3 479.1,1101.0 481.1,1099.7 483.1,1098.3 485.0,1097.4 487.0,1096.8 489.0,1097.4 490.9,1100.0 492.9,1102.4 494.9,1103.7 496.8,1101.7 498.8,1097.7 500.8,1094.8 502.7,1094.2 504.7,1094.8 506.7,1095.5 508.6,1095.7 510.6,1095.4 512.6,1094.5 514.5,1093.2 516.5,1091.9 518.5,1090.7 520.4,1089.7 522.4,1089.2 524.4,1088.9 526.3,1088.6 528.3,1088.5 530.3,1088.4 532.2,1087.4 534.2,1085.8 536.2,1084.2 538.1,1083.5 540.1,1083.2 542.1,1082.7 544.0,1082.0 546.0,1081.3 548.0,1081.3 549.9,1081.9 551.9,1082.3 553.9,1082.3 555.8,1081.2 557.8,1079.0 559.8,1076.8 561.7,1074.5 563.7,1072.6 565.7,1072.0 567.6,1071.8 569.6,1072.5 571.6,1073.1 573.7,1073.5 575.5,1073.9 577.5,1073.8 579.4,1073.8 581.4,1073.5 583.4,1073.4 585.3,1073.5 587.3,1073.6 589.3,1074.1 591.2,1074.4 593.2,1074.0 595.2,1073.6 597.1,1072.7 599.1,1072.1 601.1,1073.3 603.0,1074.5 605.0,1075.5 607.0,1075.4 608.9,1072.6 610.9,1069.8 612.9,1069.3 614.8,1069.4 616.8,1069.6 618.8,1069.4 620.7,1067.2 622.7,1064.0 624.7,1060.2 626.6,1055.7 628.6,1051.4 630.6,1048.9 632.5,1045.9 634.5,1040.4 636.5,1033.2 638.4,1024.5 640.4,1011.9 642.4,996.9 644.3,979.3 646.3,959.7 648.3,940.4 650.2,916.4 652.2,898.3 654.2,879.3 656.1,868.7 658.4,863.1 660.1,865.5 662.0,874.1 664.0,891.8 666.0,911.1 668.0,931.0 669.9,949.5 671.9,968.1 673.9,982.9 675.8,994.1 677.8,1004.6 679.8,1015.1 681.7,1021.8 683.7,1026.9 685.7,1031.2 687.6,1034.4 689.6,1036.5 691.6,1037.5 693.5,1038.0 695.5,1037.9 697.5,1037.7 699.4,1038.1 701.4,1039.0 703.4,1040.8 705.3,1043.4 707.3,1046.1 709.3,1048.8 711.2,1051.0 713.2,1052.5 715.2,1054.0 717.1,1054.9 719.1,1055.6 721.1,1056.3 723.0,1056.8 725.0,1058.3 727.0,1059.5 728.9,1061.0 730.9,1062.3 732.9,1063.1 734.8,1063.7 736.8,1064.4 738.8,1065.1 740.7,1064.9 742.7,1064.6 744.7,1064.1 746.6,1063.6 748.6,1064.0 750.6,1064.5 752.5,1064.2 754.5,1063.5 756.5,1062.8 758.4,1062.0 760.4,1062.7 762.4,1063.9 764.3,1065.0 766.3,1065.9 768.3,1065.9 770.2,1065.3 772.2,1064.3 774.2,1062.9 776.1,1061.5 778.1,1060.4 780.1,1059.8 782.0,1059.7 784.0,1059.7 786.0,1059.8 787.9,1059.8 789.9,1059.7 791.9,1059.1 793.8,1058.0 795.8,1056.7 797.8,1055.4 799.7,1054.1 801.7,1052.8 803.7,1051.5 805.6,1050.1 807.6,1048.7 809.6,1047.5 811.5,1045.8 813.5,1043.8 815.5,1040.9 817.4,1036.8 819.4,1032.2 821.4,1027.6 823.3,1022.7 825.3,1017.1 827.3,1010.9 829.2,1003.9 831.2,995.7 833.2,985.6 835.1,973.3 837.1,958.9 839.1,942.0 841.0,925.0 843.0,906.8 845.0,883.9 846.9,857.1 848.9,826.1 850.9,789.2 852.8,739.3 854.8,696.0 856.8,659.1 858.7,592.1 860.7,552.9 862.7,526.0 864.7,502.8 867.4,481.8 868.6,486.2 870.6,506.2 872.5,530.2 874.5,561.8 876.5,605.8 878.4,661.3 880.4,690.2 882.4,718.9 884.3,755.6 886.3,790.7 888.3,817.4 890.2,840.6 892.2,861.3 894.2,879.8 896.1,896.0 898.1,910.0 900.1,921.1 902.0,929.6 904.0,936.5 906.0,942.2 907.9,946.9 909.9,950.6 911.9,953.7 913.8,955.7 915.8,956.7 917.8,957.5 919.7,958.6 921.7,960.2 923.7,962.4 925.6,965.1 927.6,968.9 929.6,973.6 931.5,978.0 933.5,981.5 935.5,984.7 937.4,987.9 939.4,991.4 941.4,994.9 943.3,997.8 945.3,999.7 947.3,1001.2 949.2,1002.1 951.2,1002.4 953.2,1002.6 955.1,1002.4 957.1,1001.9 959.1,1001.2 961.0,1000.2 963.0,998.9 965.0,997.5 966.9,995.6 968.9,992.9 970.9,989.5 972.8,985.7 974.8,981.2 976.8,975.9 978.7,970.2 980.7,964.1 982.7,957.2 984.6,948.7 986.6,937.4 988.6,926.4 990.5,916.8 992.5,907.0 994.5,894.8 996.4,879.1 998.4,862.3 1000.4,845.1 1002.3,827.1 1004.3,804.7 1006.3,778.6 1008.2,755.6 1010.2,732.3 1012.2,707.3 1014.1,679.9 1016.1,652.7 1018.1,625.8 1020.0,599.0 1022.0,572.2 1024.0,546.8 1025.9,519.1 1027.9,495.2 1029.5,481.8 1031.0,473.1 1032.0,469.9 1033.9,466.6 1035.8,468.9 1037.7,475.6 1039.7,488.9 1041.7,506.5 1043.6,527.4 1045.6,552.7 1047.6,580.4 1049.5,606.8 1051.5,630.4 1053.5,650.6 1055.4,667.4 1057.4,680.8 1059.4,694.4 1061.4,709.1 1063.3,726.7 1065.3,744.4 1067.3,761.0 1069.2,775.7 1071.2,791.2 1073.2,805.6 1075.1,816.4 1077.1,826.6 1079.1,837.0 1081.0,847.8 1083.0,858.4 1085.0,867.8 1086.9,876.2 1088.9,884.1 1090.9,891.0 1092.8,896.1 1094.8,900.7 1096.8,906.0 1098.7,912.1 1100.7,918.1 1102.7,923.3 1104.6,928.9 1106.6,934.2 1108.6,939.0 1110.5,943.7 1112.5,948.9 1114.5,954.3 1116.4,959.0 1118.4,963.6 1120.4,967.9 1122.3,971.8 1124.3,975.5 1126.3,979.0 1128.2,982.7 1130.2,985.9 1132.2,989.1 1134.1,992.2 1136.1,995.1 1138.1,997.8 1140.0,1000.2 1142.0,1002.1 1144.0,1004.0 1145.9,1005.8 1147.9,1007.3 1149.9,1008.5 1151.8,1009.7 1153.8,1010.7 1155.8,1011.2 1157.7,1011.7 1159.7,1012.5 1161.7,1013.3 1163.6,1013.6 1165.6,1013.4 1167.6,1012.9 1169.5,1012.8 1171.5,1011.8 1173.5,1010.7 1175.4,1009.4 1177.4,1008.0 1179.4,1006.5 1181.3,1004.9 1183.3,1003.3 1185.3,1001.8 1187.2,1000.8 1189.2,999.0 1191.2,996.9 1193.1,994.1 1195.1,988.6 1197.1,982.7 1199.0,976.7 1201.0,969.7 1203.0,962.3 1204.9,954.3 1206.9,946.3 1208.9,937.9 1210.8,929.4 1212.8,921.1 1214.8,914.1 1216.7,903.3 1218.7,890.6 1220.7,879.5 1222.6,869.6 1224.6,860.3 1226.6,850.6 1228.5,843.4 1230.5,837.8 1232.5,831.6 1234.4,826.9 1236.4,824.4 1239.0,820.9 1240.3,822.1 1242.3,823.3 1244.3,825.4 1246.2,828.8 1248.2,833.9 1250.2,838.7 1252.1,842.9 1254.1,847.7 1256.1,855.0 1258.1,866.7 1260.0,876.4 1262.0,883.5 1264.0,891.4 1265.9,900.0 1267.9,911.2 1269.9,918.3 1271.8,921.8 1273.8,924.2 1275.8,930.2 1277.7,937.4 1279.7,942.1 1281.7,945.1 1283.6,947.6 1285.6,949.8 1287.6,951.7 1289.5,953.5 1291.5,955.3 1293.5,956.4 1295.4,956.8 1297.4,956.9 1299.4,956.7 1301.3,956.1 1303.3,955.2 1305.3,953.9 1307.2,951.6 1309.2,948.8 1311.2,945.7 1313.1,942.2 1315.1,938.9 1317.1,936.3 1319.0,933.7 1321.0,931.1 1323.0,928.1 1324.9,925.0 1326.9,922.7 1328.9,920.7 1330.8,918.3 1332.8,917.0 1334.8,916.9 1336.7,916.4 1338.7,915.9 1340.7,916.0 1341.8,916.4 1344.6,918.7 1346.6,921.1 1348.5,925.9 1350.5,931.8 1352.5,938.0 1354.4,943.8 1356.4,949.9 1358.4,957.0 1360.3,963.6 1362.3,969.7 1364.3,975.8 1366.2,982.2 1368.2,989.0 1370.2,995.0 1372.1,1000.9 1374.1,1007.3 1376.1,1013.8 1378.0,1019.5 1380.0,1025.5 1382.0,1031.3 1383.9,1035.7 1385.9,1040.1 1387.9,1044.5 1389.8,1047.9 1391.8,1051.1 1393.8,1053.8 1395.7,1055.8 1397.7,1057.6 1399.7,1059.5 1401.6,1061.9 1403.6,1064.3 1405.6,1066.7 1407.5,1068.8 1409.5,1070.0 1411.5,1071.0 1413.4,1071.9 1415.4,1072.7 1417.4,1073.8 1419.3,1075.0 1421.3,1077.1 1423.3,1079.1 1425.2,1080.5 1427.2,1081.4 1429.2,1081.5 1431.1,1083.1 1433.1,1086.0 1435.1,1088.6 1437.0,1092.7 1439.0,1095.3 1441.0,1096.0 1442.9,1096.5 1444.9,1094.8 1446.9,1091.9 1448.8,1090.7 1450.8,1089.9 1452.8,1089.4 1454.8,1088.9 1456.7,1086.6 1458.7,1084.0 1460.7,1083.7 1462.6,1084.1 1464.6,1086.2 1466.6,1088.3 1468.5,1087.8 1470.5,1086.3 1472.5,1084.5 1474.4,1083.4 1476.4,1084.0 1478.4,1084.8 1480.3,1084.4 1482.3,1082.4 1484.3,1081.4 1486.2,1081.6 1488.2,1082.2 1490.2,1083.1 1492.1,1083.1 1494.1,1083.2 1496.1,1082.2 1498.0,1081.0 1500.0,1080.8 1502.0,1081.8 1503.9,1082.5 1505.9,1082.9 1507.9,1083.1 1509.8,1082.9 1511.8,1082.8 1513.8,1083.0 1515.7,1083.0 1517.7,1082.8 1519.7,1083.0 1521.6,1084.3 1523.6,1085.9 1525.6,1088.0 1527.5,1090.1 1529.5,1091.3 1531.5,1091.9 1533.4,1091.4 1535.4,1090.2 1537.4,1089.6 1539.3,1090.0 1541.3,1090.6 1543.3,1090.9 1545.2,1089.0 1547.2,1086.0 1549.2,1084.3 1551.1,1084.0 1553.1,1085.4 1555.1,1086.9 1557.0,1087.4 1559.0,1087.2 1561.0,1086.8 1562.9,1086.7 1564.9,1087.1 1566.9,1088.1 1568.8,1088.3 1570.8,1087.2 1572.8,1083.9 1574.7,1080.0 1576.7,1079.1 1578.7,1081.3 1580.6,1084.8 1582.6,1088.1 1584.6,1090.4 1586.5,1090.8 1588.5,1090.2 1590.5,1089.4 1592.4,1089.6 1594.4,1090.0 1596.4,1090.3 1598.3,1090.0 1600.3,1088.6 1602.3,1086.8 1604.2,1085.9 1606.2,1086.0 1608.2,1087.2 1610.1,1089.0 1612.1,1089.9 1614.1,1089.8 1616.0,1089.1 1618.0,1088.2 1620.0,1088.2 1621.9,1090.0 1623.9,1092.2 1625.9,1093.3 1627.8,1094.1 1629.8,1094.6 1631.8,1094.9 1633.7,1095.1 1635.7,1095.1 1637.7,1095.0 1639.6,1094.8 1641.6,1094.5 1643.6,1094.3 1645.5,1094.6 1647.5,1095.4 1649.5,1096.2 1651.5,1095.6 1653.4,1091.5 1655.4,1086.8 1657.4,1084.7 1659.3,1086.3 1661.3,1089.4 1663.3,1091.8 1665.2,1094.3 1667.2,1095.7 1669.2,1095.7 1671.1,1095.1 1673.1,1094.5 1675.1,1094.3 1677.0,1094.9 1679.0,1095.7 1681.0,1096.2 1682.9,1097.0 1684.9,1097.6 1686.9,1098.3 1688.8,1098.9 1690.8,1098.8 1692.8,1097.8 1694.7,1096.5 1696.7,1094.9 1698.7,1093.9 1700.6,1093.9 1702.6,1094.7 1704.6,1095.8 1706.5,1096.6 1708.5,1098.6 1710.5,1100.7 1712.4,1101.6 1714.4,1101.4 1716.4,1100.4 1718.3,1099.4 1720.3,1099.8 1722.3,1101.3 1724.2,1101.8 1726.2,1101.1 1728.2,1099.7 1730.1,1097.9 1732.1,1096.5 1734.1,1095.3 1736.0,1094.0 1738.0,1093.2 1740.0,1093.3 1741.9,1094.7 1743.9,1095.6 1746.0,1096.3"/>
<polyline stroke="#000080" points="366.0,1085.4 367.0,1085.1 369.0,1084.4 370.9,1083.7 372.9,1083.7 374.9,1083.7 376.8,1083.6 378.8,1083.4 380.8,1083.5 382.7,1083.7 384.7,1084.5 386.7,1085.5 388.6,1085.9 390.6,1086.2 392.6,1085.9 394.5,1085.5 396.5,1084.9 398.5,1084.3 400.4,1084.1 402.4,1083.9 404.4,1084.0 406.3,1084.3 408.3,1084.3 410.3,1084.4 412.2,1084.8 414.2,1085.5 416.2,1086.3 418.1,1087.2 420.1,1087.6 422.1,1087.8 424.0,1088.1 426.0,1088.6 428.0,1089.2 429.9,1090.1 431.9,1090.1 433.9,1089.5 435.8,1088.4 437.8,1087.1 439.8,1086.5 441.7,1087.4 443.7,1089.5 445.7,1092.5 447.6,1095.2 449.6,1096.9 451.6,1097.6 453.5,1097.8 455.5,1097.8 457.5,1097.6 459.4,1097.4 461.4,1097.5 463.4,1097.7 465.3,1098.4 467.3,1099.2 469.3,1100.0 471.3,1100.6 473.2,1100.7 475.2,1100.6 477.2,1100.9 479.1,1100.8 481.1,1100.6 483.1,1100.1 485.0,1099.0 487.0,1098.1 489.0,1097.9 490.9,1099.7 492.9,1102.6 494.9,1104.0 496.8,1102.9 498.8,1099.6 500.8,1096.3 502.7,1095.4 504.7,1095.7 506.7,1096.2 508.6,1096.6 510.6,1096.8 512.6,1096.2 514.5,1094.9 516.5,1093.9 518.5,1093.0 520.4,1092.3 522.4,1092.1 524.4,1091.6 526.3,1090.8 528.3,1090.5 530.3,1090.4 532.2,1089.6 534.2,1088.2 536.2,1086.1 538.1,1084.3 540.1,1083.4 542.1,1082.7 544.0,1082.5 546.0,1082.7 548.0,1083.1 549.9,1083.3 551.9,1083.4 553.9,1083.0 555.8,1082.3 557.8,1081.2 559.8,1080.1 561.7,1078.7 563.7,1077.0 565.7,1074.8 567.6,1073.1 569.6,1072.5 571.6,1072.5 573.7,1073.9 575.5,1074.7 577.5,1074.6 579.4,1074.4 581.4,1074.0 583.4,1073.8 585.3,1074.3 587.3,1074.6 589.3,1074.0 591.2,1073.2 593.2,1072.0 595.2,1071.0 597.1,1071.1 599.1,1071.4 601.1,1072.6 603.0,1073.9 605.0,1074.0 607.0,1073.0 608.9,1071.7 610.9,1070.5 612.9,1071.6 614.8,1073.4 616.8,1073.5 618.8,1073.1 620.7,1072.0 622.7,1069.9 624.7,1067.3 626.6,1064.2 628.6,1060.2 630.6,1057.3 632.5,1055.4 634.5,1052.8 636.5,1050.0 638.4,1046.4 640.4,1040.4 642.4,1032.3 644.3,1022.2 646.3,1011.0 648.3,1000.4 650.2,987.5 652.2,977.7 654.2,967.6 656.1,961.7 658.4,958.3 660.1,959.1 662.0,963.0 664.0,971.5 666.0,980.8 668.0,990.7 669.9,1000.4 671.9,1010.6 673.9,1019.2 675.8,1025.8 677.8,1031.7 679.8,1037.7 681.7,1041.6 683.7,1044.7 685.7,1047.2 687.6,1049.1 689.6,1050.5 691.6,1051.2 693.5,1051.7 695.5,1051.8 697.5,1051.7 699.4,1051.6 701.4,1052.2 703.4,1053.4 705.3,1055.6 707.3,1058.0 709.3,1060.1 711.2,1061.6 713.2,1062.2 715.2,1062.7 717.1,1062.7 719.1,1062.6 721.1,1062.7 723.0,1062.7 725.0,1063.1 727.0,1063.6 728.9,1063.9 730.9,1064.2 732.9,1064.4 734.8,1064.5 736.8,1065.4 738.8,1066.3 740.7,1067.4 742.7,1068.5 744.7,1068.7 746.6,1068.8 748.6,1068.0 750.6,1067.0 752.5,1065.9 754.5,1064.8 756.5,1064.4 758.4,1064.2 760.4,1063.9 762.4,1063.5 764.3,1062.9 766.3,1062.2 768.3,1061.8 770.2,1061.6 772.2,1061.2 774.2,1060.6 776.1,1060.1 778.1,1059.8 780.1,1059.4 782.0,1059.1 784.0,1058.7 786.0,1058.3 787.9,1058.0 789.9,1057.9 791.9,1057.3 793.8,1056.2 795.8,1054.8 797.8,1053.4 799.7,1052.1 801.7,1051.1 803.7,1050.0 805.6,1048.4 807.6,1046.5 809.6,1044.1 811.5,1041.5 813.5,1038.5 815.5,1035.3 817.4,1031.5 819.4,1026.7 821.4,1021.4 823.3,1015.7 825.3,1009.2 827.3,1002.0 829.2,993.9 831.2,984.4 833.2,972.9 835.1,958.9 837.1,942.5 839.1,923.2 841.0,903.7 843.0,882.8 845.0,856.5 846.9,825.7 848.9,790.2 850.9,747.8 852.8,690.6 854.8,640.9 856.8,598.6 858.7,521.7 860.7,476.8 862.7,446.1 864.7,419.5 867.4,395.3 868.6,400.5 870.6,423.5 872.5,451.2 874.5,487.7 876.5,538.3 878.4,602.2 880.4,635.5 882.4,668.6 884.3,710.9 886.3,751.3 888.3,782.0 890.2,808.9 892.2,833.0 894.2,854.5 896.1,873.5 898.1,889.8 900.1,902.8 902.0,912.9 904.0,921.1 906.0,928.1 907.9,933.9 909.9,938.7 911.9,942.7 913.8,945.5 915.8,947.0 917.8,948.2 919.7,949.8 921.7,952.0 923.7,954.6 925.6,957.9 927.6,962.3 929.6,967.8 931.5,972.9 933.5,977.1 935.5,980.8 937.4,984.6 939.4,988.7 941.4,992.9 943.3,996.4 945.3,998.8 947.3,1000.8 949.2,1002.1 951.2,1002.9 953.2,1003.5 955.1,1003.8 957.1,1003.8 959.1,1003.6 961.0,1003.2 963.0,1002.6 965.0,1001.9 966.9,1000.9 968.9,998.9 970.9,996.4 972.8,993.5 974.8,989.9 976.8,985.6 978.7,981.0 980.7,976.0 982.7,970.1 984.6,962.5 986.6,951.6 988.6,941.0 990.5,931.9 992.5,922.3 994.5,910.3 996.4,895.4 998.4,879.4 1000.4,862.4 1002.3,844.6 1004.3,821.7 1006.3,794.3 1008.2,770.6 1010.2,746.4 1012.2,719.9 1014.1,690.5 1016.1,661.0 1018.1,631.4 1020.0,601.4 1022.0,571.2 1024.0,542.5 1025.9,511.0 1027.9,484.0 1029.5,469.1 1031.0,459.5 1032.0,456.1 1033.9,452.8 1035.8,456.0 1037.7,464.5 1039.7,480.5 1041.7,501.7 1043.6,526.6 1045.6,556.7 1047.6,589.6 1049.5,621.0 1051.5,649.2 1053.5,673.4 1055.4,693.7 1057.4,710.2 1059.4,726.7 1061.4,744.4 1063.3,765.1 1065.3,785.7 1067.3,805.0 1069.2,822.2 1071.2,840.2 1073.2,856.0 1075.1,867.7 1077.1,879.8 1079.1,890.5 1081.0,897.3 1083.0,903.7 1085.0,910.8 1086.9,918.0 1088.9,925.2 1090.9,932.0 1092.8,937.4 1094.8,944.0 1096.8,948.4 1098.7,952.6 1100.7,957.7 1102.7,960.5 1104.6,962.7 1106.6,963.8 1108.6,964.7 1110.5,966.6 1112.5,969.2 1114.5,973.8 1116.4,978.7 1118.4,981.1 1120.4,983.5 1122.3,986.3 1124.3,988.5 1126.3,990.2 1128.2,993.4 1130.2,996.2 1132.2,998.4 1134.1,1000.9 1136.1,1003.2 1138.1,1005.2 1140.0,1007.0 1142.0,1008.6 1144.0,1010.2 1145.9,1011.7 1147.9,1012.8 1149.9,1013.9 1151.8,1015.1 1153.8,1016.3 1155.8,1017.4 1157.7,1018.6 1159.7,1019.4 1161.7,1019.9 1163.6,1020.1 1165.6,1019.9 1167.6,1019.5 1169.5,1018.7 1171.5,1016.6 1173.5,1014.5 1175.4,1012.1 1177.4,1009.7 1179.4,1007.4 1181.3,1005.0 1183.3,1002.6 1185.3,1000.2 1187.2,998.0 1189.2,995.2 1191.2,992.1 1193.1,987.1 1195.1,982.8 1197.1,976.1 1199.0,968.8 1201.0,960.9 1203.0,952.4 1204.9,943.9 1206.9,935.1 1208.9,926.0 1210.8,917.5 1212.8,906.6 1214.8,891.7 1216.7,881.9 1218.7,870.2 1220.7,858.9 1222.6,849.8 1224.6,841.3 1226.6,833.9 1228.5,825.8 1230.5,815.1 1232.5,806.2 1234.4,799.0 1236.4,792.3 1239.0,789.2 1240.3,790.3 1242.3,792.3 1244.3,794.9 1246.2,797.9 1248.2,802.7 1250.2,810.2 1252.1,820.7 1254.1,832.3 1256.1,842.1 1258.1,850.9 1260.0,859.8 1262.0,868.4 1264.0,875.2 1265.9,881.3 1267.9,890.0 1269.9,895.9 1271.8,902.0 1273.8,907.6 1275.8,912.5 1277.7,915.4 1279.7,917.4 1281.7,921.9 1283.6,925.9 1285.6,929.4 1287.6,932.2 1289.5,934.4 1291.5,936.5 1293.5,938.1 1295.4,939.0 1297.4,939.4 1299.4,939.4 1301.3,938.6 1303.3,937.3 1305.3,935.8 1307.2,933.5 1309.2,930.8 1311.2,927.8 1313.1,924.4 1315.1,921.0 1317.1,918.1 1319.0,915.7 1321.0,913.1 1323.0,909.8 1324.9,905.9 1326.9,902.9 1328.9,900.7 1330.8,898.9 1332.8,898.1 1334.8,897.8 1336.7,897.3 1338.7,896.6 1340.7,896.0 1341.8,895.7 1344.6,896.7 1346.6,898.8 1348.5,903.2 1350.5,909.2 1352.5,916.7 1354.4,923.8 1356.4,930.6 1358.4,936.8 1360.3,942.6 1362.3,948.2 1364.3,954.2 1366.2,960.7 1368.2,967.7 1370.2,975.1 1372.1,983.2 1374.1,990.6 1376.1,997.4 1378.0,1004.0 1380.0,1011.0 1382.0,1017.6 1383.9,1023.1 1385.9,1028.1 1387.9,1032.4 1389.8,1036.2 1391.8,1040.4 1393.8,1044.3 1395.7,1047.2 1397.7,1049.3 1399.7,1051.5 1401.6,1054.4 1403.6,1057.2 1405.6,1059.8 1407.5,1062.3 1409.5,1063.9 1411.5,1065.5 1413.4,1068.1 1415.4,1070.3 1417.4,1071.9 1419.3,1072.7 1421.3,1072.3 1423.3,1072.5 1425.2,1072.8 1427.2,1072.5 1429.2,1073.1 1431.1,1075.5 1433.1,1079.6 1435.1,1082.9 1437.0,1088.9 1439.0,1093.0 1441.0,1094.2 1442.9,1094.8 1444.9,1093.0 1446.9,1089.8 1448.8,1088.5 1450.8,1087.5 1452.8,1087.0 1454.8,1086.6 1456.7,1086.5 1458.7,1086.1 1460.7,1087.3 1462.6,1089.1 1464.6,1090.7 1466.6,1091.3 1468.5,1090.0 1470.5,1087.9 1472.5,1086.5 1474.4,1086.3 1476.4,1086.8 1478.4,1087.3 1480.3,1086.5 1482.3,1084.0 1484.3,1082.9 1486.2,1083.0 1488.2,1083.6 1490.2,1084.4 1492.1,1085.2 1494.1,1087.1 1496.1,1087.3 1498.0,1087.2 1500.0,1086.8 1502.0,1086.4 1503.9,1086.2 1505.9,1086.4 1507.9,1086.5 1509.8,1086.4 1511.8,1086.0 1513.8,1085.4 1515.7,1085.1 1517.7,1085.0 1519.7,1085.1 1521.6,1085.8 1523.6,1086.8 1525.6,1088.4 1527.5,1090.3 1529.5,1091.8 1531.5,1092.5 1533.4,1091.1 1535.4,1089.1 1537.4,1088.0 1539.3,1088.2 1541.3,1090.6 1543.3,1092.6 1545.2,1092.4 1547.2,1091.0 1549.2,1089.2 1551.1,1088.7 1553.1,1089.8 1555.1,1091.0 1557.0,1091.5 1559.0,1091.4 1561.0,1090.9 1562.9,1090.7 1564.9,1091.1 1566.9,1092.2 1568.8,1093.2 1570.8,1092.9 1572.8,1090.5 1574.7,1087.5 1576.7,1085.7 1578.7,1086.7 1580.6,1088.4 1582.6,1089.7 1584.6,1092.0 1586.5,1093.0 1588.5,1093.4 1590.5,1093.8 1592.4,1093.7 1594.4,1093.3 1596.4,1092.9 1598.3,1092.0 1600.3,1091.0 1602.3,1090.1 1604.2,1089.3 1606.2,1089.1 1608.2,1089.6 1610.1,1090.6 1612.1,1091.5 1614.1,1091.8 1616.0,1091.1 1618.0,1090.0 1620.0,1089.8 1621.9,1091.6 1623.9,1093.8 1625.9,1095.1 1627.8,1095.9 1629.8,1095.9 1631.8,1095.8 1633.7,1095.6 1635.7,1095.1 1637.7,1094.4 1639.6,1093.6 1641.6,1092.8 1643.6,1092.2 1645.5,1092.2 1647.5,1093.0 1649.5,1094.2 1651.5,1094.3 1653.4,1091.5 1655.4,1088.1 1657.4,1086.8 1659.3,1088.9 1661.3,1091.8 1663.3,1093.8 1665.2,1095.1 1667.2,1095.6 1669.2,1095.5 1671.1,1095.0 1673.1,1095.4 1675.1,1096.3 1677.0,1095.9 1679.0,1095.8 1681.0,1095.3 1682.9,1095.0 1684.9,1096.2 1686.9,1097.3 1688.8,1097.7 1690.8,1097.2 1692.8,1096.1 1694.7,1094.6 1696.7,1093.6 1698.7,1093.3 1700.6,1094.1 1702.6,1095.8 1704.6,1097.5 1706.5,1098.8 1708.5,1100.7 1710.5,1102.5 1712.4,1103.9 1714.4,1104.3 1716.4,1103.6 1718.3,1102.7 1720.3,1102.7 1722.3,1103.5 1724.2,1104.2 1726.2,1104.2 1728.2,1103.3 1730.1,1101.8 1732.1,1100.2 1734.1,1098.4 1736.0,1096.5 1738.0,1095.1 1740.0,1094.3 1741.9,1094.3 1743.9,1094.4 1746.0,1094.8"/>
<polyline stroke="#800000" points="366.0,1082.9 367.0,1082.9 369.0,1082.6 370.9,1082.2 372.9,1081.9 374.9,1081.7 376.8,1081.4 378.8,1081.2 380.8,1081.1 382.7,1081.0 384.7,1080.9 386.7,1080.9 388.6,1080.9 390.6,1081.0 392.6,1081.0 394.5,1081.1 396.5,1081.1 398.5,1081.2 400.4,1081.4 402.4,1081.5 404.4,1081.6 406.3,1081.8 408.3,1081.9 410.3,1082.2 412.2,1082.6 414.2,1083.2 416.2,1083.8 418.1,1084.4 420.1,1084.9 422.1,1085.6 424.0,1086.4 426.0,1087.1 428.0,1087.7 429.9,1087.9 431.9,1087.6 433.9,1086.9 435.8,1086.0 437.8,1085.3 439.8,1084.9 441.7,1085.5 443.7,1087.1 445.7,1089.2 447.6,1091.3 449.6,1092.7 451.6,1093.4 453.5,1093.9 455.5,1094.3 457.5,1094.7 459.4,1095.0 461.4,1095.3 463.4,1095.8 465.3,1096.3 467.3,1096.9 469.3,1097.7 471.3,1098.4 473.2,1099.1 475.2,1099.6 477.2,1099.9 479.1,1099.8 481.1,1099.2 483.1,1098.4 485.0,1097.5 487.0,1097.0 489.0,1097.2 490.9,1099.4 492.9,1102.1 494.9,1103.5 496.8,1102.1 498.8,1098.7 500.8,1095.6 502.7,1094.9 504.7,1095.2 506.7,1095.5 508.6,1095.8 510.6,1095.9 512.6,1095.2 514.5,1094.1 516.5,1092.7 518.5,1091.3 520.4,1090.3 522.4,1089.9 524.4,1089.8 526.3,1089.7 528.3,1089.6 530.3,1089.5 532.2,1088.4 534.2,1086.5 536.2,1084.7 538.1,1083.9 540.1,1083.8 542.1,1083.7 544.0,1083.7 546.0,1083.7 548.0,1083.6 549.9,1083.5 551.9,1083.1 553.9,1082.4 555.8,1081.5 557.8,1080.6 559.8,1080.0 561.7,1079.5 563.7,1079.1 565.7,1078.7 567.6,1078.4 569.6,1078.1 571.6,1077.9 573.7,1077.8 575.5,1077.7 577.5,1077.6 579.4,1077.6 581.4,1077.5 583.4,1077.4 585.3,1077.3 587.3,1077.2 589.3,1077.0 591.2,1076.8 593.2,1076.6 595.2,1076.4 597.1,1076.3 599.1,1076.5 601.1,1077.3 603.0,1078.4 605.0,1079.2 607.0,1078.9 608.9,1076.7 610.9,1074.4 612.9,1074.0 614.8,1074.4 616.8,1074.9 618.8,1075.4 620.7,1075.4 622.7,1074.6 624.7,1073.2 626.6,1071.7 628.6,1070.6 630.6,1070.3 632.5,1070.4 634.5,1070.7 636.5,1070.8 638.4,1070.9 640.4,1069.7 642.4,1067.4 644.3,1064.5 646.3,1061.8 648.3,1059.7 650.2,1057.9 652.2,1056.4 654.2,1055.0 656.1,1053.8 658.4,1052.7 660.1,1051.8 662.0,1050.9 664.0,1050.2 666.0,1049.7 668.0,1049.5 669.9,1050.4 671.9,1052.5 673.9,1054.9 675.8,1056.8 677.8,1058.0 679.8,1059.2 681.7,1060.3 683.7,1061.3 685.7,1062.1 687.6,1062.6 689.6,1062.9 691.6,1062.9 693.5,1062.8 695.5,1062.7 697.5,1062.6 699.4,1062.5 701.4,1062.7 703.4,1063.7 705.3,1065.0 707.3,1066.3 709.3,1067.2 711.2,1067.4 713.2,1067.6 715.2,1067.7 717.1,1067.8 719.1,1067.9 721.1,1067.9 723.0,1068.0 725.0,1068.2 727.0,1068.4 728.9,1068.6 730.9,1068.8 732.9,1069.0 734.8,1069.1 736.8,1069.1 738.8,1069.0 740.7,1068.9 742.7,1068.7 744.7,1068.4 746.6,1068.2 748.6,1068.0 750.6,1067.6 752.5,1067.3 754.5,1066.9 756.5,1066.5 758.4,1066.0 760.4,1065.6 762.4,1065.2 764.3,1064.8 766.3,1064.4 768.3,1063.8 770.2,1063.2 772.2,1062.3 774.2,1061.1 776.1,1059.8 778.1,1058.6 780.1,1057.7 782.0,1057.0 784.0,1056.5 786.0,1056.0 787.9,1055.4 789.9,1054.7 791.9,1053.8 793.8,1052.5 795.8,1051.0 797.8,1049.5 799.7,1047.9 801.7,1046.4 803.7,1044.8 805.6,1043.2 807.6,1041.2 809.6,1039.0 811.5,1036.4 813.5,1033.3 815.5,1029.8 817.4,1025.5 819.4,1020.1 821.4,1013.9 823.3,1007.1 825.3,999.6 827.3,991.1 829.2,981.7 831.2,970.8 833.2,957.7 835.1,941.6 837.1,922.8 839.1,900.7 841.0,878.1 843.0,854.0 845.0,823.8 846.9,788.3 848.9,747.3 850.9,698.4 852.8,632.5 854.8,575.2 856.8,526.6 858.7,438.0 860.7,386.3 862.7,350.9 864.7,320.3 867.4,292.5 868.6,298.5 870.6,325.2 872.5,357.1 874.5,399.4 876.5,457.9 878.4,531.7 880.4,570.2 882.4,608.4 884.3,657.3 886.3,704.0 888.3,739.6 890.2,770.7 892.2,798.9 894.2,824.0 896.1,846.1 898.1,865.1 900.1,880.4 902.0,892.2 904.0,902.0 906.0,910.4 907.9,917.6 909.9,923.5 911.9,928.5 913.8,932.2 915.8,934.4 917.8,936.0 919.7,938.0 921.7,940.7 923.7,944.0 925.6,947.8 927.6,953.1 929.6,959.4 931.5,965.4 933.5,970.3 935.5,974.8 937.4,979.2 939.4,984.0 941.4,989.0 943.3,993.2 945.3,996.2 947.3,998.6 949.2,1000.5 951.2,1001.7 953.2,1002.8 955.1,1003.6 957.1,1004.1 959.1,1004.4 961.0,1004.6 963.0,1004.7 965.0,1004.8 966.9,1004.5 968.9,1003.3 970.9,1001.6 972.8,999.6 974.8,996.8 976.8,993.5 978.7,989.9 980.7,985.9 982.7,980.9 984.6,974.0 986.6,963.3 988.6,952.9 990.5,944.1 992.5,934.5 994.5,922.5 996.4,908.1 998.4,892.5 1000.4,875.3 1002.3,857.3 1004.3,833.3 1006.3,804.2 1008.2,779.5 1010.2,754.6 1012.2,727.0 1014.1,696.0 1016.1,664.9 1018.1,633.3 1020.0,601.0 1022.0,568.1 1024.0,536.6 1025.9,501.7 1027.9,471.8 1029.5,455.4 1031.0,445.0 1032.0,441.2 1033.9,437.5 1035.8,441.2 1037.7,450.8 1039.7,469.3 1041.7,493.7 1043.6,522.4 1045.6,557.1 1047.6,595.1 1049.5,631.3 1051.5,664.0 1053.5,692.1 1055.4,715.7 1057.4,735.0 1059.4,754.2 1061.4,774.8 1063.3,798.8 1065.3,822.5 1067.3,844.7 1069.2,864.2 1071.2,883.7 1073.2,900.1 1075.1,910.8 1077.1,920.0 1079.1,928.2 1081.0,936.2 1083.0,943.7 1085.0,950.8 1086.9,958.2 1088.9,965.0 1090.9,970.7 1092.8,974.3 1094.8,976.9 1096.8,978.6 1098.7,981.2 1100.7,985.4 1102.7,989.1 1104.6,992.2 1106.6,993.7 1108.6,994.2 1110.5,994.5 1112.5,995.3 1114.5,997.2 1116.4,999.5 1118.4,1002.1 1120.4,1004.4 1122.3,1006.6 1124.3,1008.3 1126.3,1008.6 1128.2,1008.8 1130.2,1008.9 1132.2,1009.4 1134.1,1010.7 1136.1,1012.1 1138.1,1013.3 1140.0,1014.5 1142.0,1015.4 1144.0,1016.3 1145.9,1016.9 1147.9,1017.0 1149.9,1016.9 1151.8,1016.9 1153.8,1016.8 1155.8,1016.7 1157.7,1016.6 1159.7,1016.4 1161.7,1016.2 1163.6,1015.8 1165.6,1015.3 1167.6,1014.2 1169.5,1012.4 1171.5,1008.9 1173.5,1005.7 1175.4,1002.8 1177.4,999.9 1179.4,996.9 1181.3,994.0 1183.3,991.0 1185.3,988.2 1187.2,985.4 1189.2,981.3 1191.2,975.4 1193.1,966.6 1195.1,957.9 1197.1,949.7 1199.0,941.8 1201.0,933.4 1203.0,924.6 1204.9,915.3 1206.9,905.6 1208.9,895.2 1210.8,883.8 1212.8,872.1 1214.8,863.3 1216.7,854.8 1218.7,840.2 1220.7,825.2 1222.6,811.5 1224.6,801.4 1226.6,794.0 1228.5,787.3 1230.5,780.7 1232.5,772.9 1234.4,764.9 1236.4,756.9 1239.0,748.0 1240.3,748.4 1242.3,750.0 1244.3,752.8 1246.2,757.1 1248.2,763.8 1250.2,770.3 1252.1,776.4 1254.1,783.3 1256.1,790.9 1258.1,799.1 1260.0,807.8 1262.0,817.0 1264.0,827.0 1265.9,837.8 1267.9,850.0 1269.9,854.6 1271.8,857.6 1273.8,861.7 1275.8,870.8 1277.7,881.3 1279.7,888.0 1281.7,893.3 1283.6,897.9 1285.6,902.0 1287.6,905.4 1289.5,908.3 1291.5,910.9 1293.5,912.7 1295.4,913.5 1297.4,914.1 1299.4,914.3 1301.3,913.9 1303.3,913.2 1305.3,912.0 1307.2,910.0 1309.2,907.6 1311.2,905.1 1313.1,902.3 1315.1,899.1 1317.1,895.7 1319.0,891.8 1321.0,887.7 1323.0,883.2 1324.9,877.8 1326.9,873.9 1328.9,871.4 1330.8,870.0 1332.8,869.5 1334.8,869.0 1336.7,867.6 1338.7,866.0 1340.7,865.2 1341.8,865.0 1344.6,866.7 1346.6,869.2 1348.5,874.3 1350.5,880.0 1352.5,885.9 1354.4,891.9 1356.4,897.7 1358.4,903.6 1360.3,909.4 1362.3,915.5 1364.3,922.3 1366.2,929.5 1368.2,937.3 1370.2,945.5 1372.1,954.5 1374.1,963.2 1376.1,971.0 1378.0,978.8 1380.0,986.8 1382.0,994.4 1383.9,1001.5 1385.9,1008.1 1387.9,1014.3 1389.8,1019.9 1391.8,1025.3 1393.8,1030.0 1395.7,1033.7 1397.7,1036.8 1399.7,1039.3 1401.6,1041.4 1403.6,1043.7 1405.6,1046.2 1407.5,1048.9 1409.5,1051.5 1411.5,1054.2 1413.4,1057.0 1415.4,1059.4 1417.4,1061.4 1419.3,1063.5 1421.3,1065.3 1423.3,1066.6 1425.2,1067.0 1427.2,1066.6 1429.2,1066.1 1431.1,1066.2 1433.1,1067.3 1435.1,1070.6 1437.0,1078.1 1439.0,1083.9 1441.0,1087.6 1442.9,1089.9 1444.9,1088.8 1446.9,1086.1 1448.8,1085.0 1450.8,1084.5 1452.8,1085.1 1454.8,1086.0 1456.7,1085.0 1458.7,1083.2 1460.7,1082.2 1462.6,1081.5 1464.6,1082.0 1466.6,1082.9 1468.5,1082.2 1470.5,1080.7 1472.5,1079.1 1474.4,1078.5 1476.4,1079.2 1478.4,1079.9 1480.3,1079.3 1482.3,1076.8 1484.3,1074.9 1486.2,1073.9 1488.2,1073.5 1490.2,1073.5 1492.1,1074.1 1494.1,1076.1 1496.1,1076.5 1498.0,1076.5 1500.0,1076.5 1502.0,1076.5 1503.9,1076.5 1505.9,1076.5 1507.9,1076.5 1509.8,1076.5 1511.8,1076.6 1513.8,1076.8 1515.7,1077.1 1517.7,1077.4 1519.7,1077.9 1521.6,1078.6 1523.6,1079.4 1525.6,1080.3 1527.5,1081.6 1529.5,1083.1 1531.5,1083.9 1533.4,1083.6 1535.4,1082.5 1537.4,1081.6 1539.3,1081.9 1541.3,1083.5 1543.3,1084.9 1545.2,1084.6 1547.2,1083.1 1549.2,1081.7 1551.1,1081.7 1553.1,1082.6 1555.1,1083.4 1557.0,1083.4 1559.0,1082.7 1561.0,1081.9 1562.9,1081.5 1564.9,1082.1 1566.9,1083.5 1568.8,1084.7 1570.8,1084.6 1572.8,1081.5 1574.7,1077.6 1576.7,1076.0 1578.7,1077.8 1580.6,1081.0 1582.6,1083.8 1584.6,1086.9 1586.5,1088.1 1588.5,1088.3 1590.5,1088.4 1592.4,1088.5 1594.4,1088.6 1596.4,1088.5 1598.3,1087.8 1600.3,1086.7 1602.3,1085.5 1604.2,1084.7 1606.2,1084.4 1608.2,1085.0 1610.1,1086.1 1612.1,1087.2 1614.1,1087.8 1616.0,1087.6 1618.0,1087.1 1620.0,1087.0 1621.9,1088.5 1623.9,1090.6 1625.9,1091.8 1627.8,1092.8 1629.8,1093.6 1631.8,1093.8 1633.7,1093.4 1635.7,1092.8 1637.7,1092.0 1639.6,1091.3 1641.6,1090.9 1643.6,1090.5 1645.5,1090.4 1647.5,1091.1 1649.5,1092.0 1651.5,1091.3 1653.4,1087.2 1655.4,1082.4 1657.4,1080.1 1659.3,1081.9 1661.3,1085.3 1663.3,1088.0 1665.2,1090.5 1667.2,1092.0 1669.2,1091.7 1671.1,1090.9 1673.1,1090.0 1675.1,1089.6 1677.0,1089.8 1679.0,1090.4 1681.0,1091.1 1682.9,1092.0 1684.9,1093.3 1686.9,1094.6 1688.8,1095.4 1690.8,1095.2 1692.8,1094.1 1694.7,1092.7 1696.7,1091.4 1698.7,1091.0 1700.6,1092.1 1702.6,1094.2 1704.6,1096.5 1706.5,1098.4 1708.5,1100.5 1710.5,1102.4 1712.4,1103.4 1714.4,1103.3 1716.4,1102.5 1718.3,1101.8 1720.3,1102.2 1722.3,1103.3 1724.2,1104.2 1726.2,1104.1 1728.2,1103.8 1730.1,1103.3 1732.1,1102.8 1734.1,1102.1 1736.0,1100.9 1738.0,1099.6 1740.0,1098.8 1741.9,1098.6 1743.9,1098.5 1746.0,1098.5"/>
</g>
</svg>
</body></html>
